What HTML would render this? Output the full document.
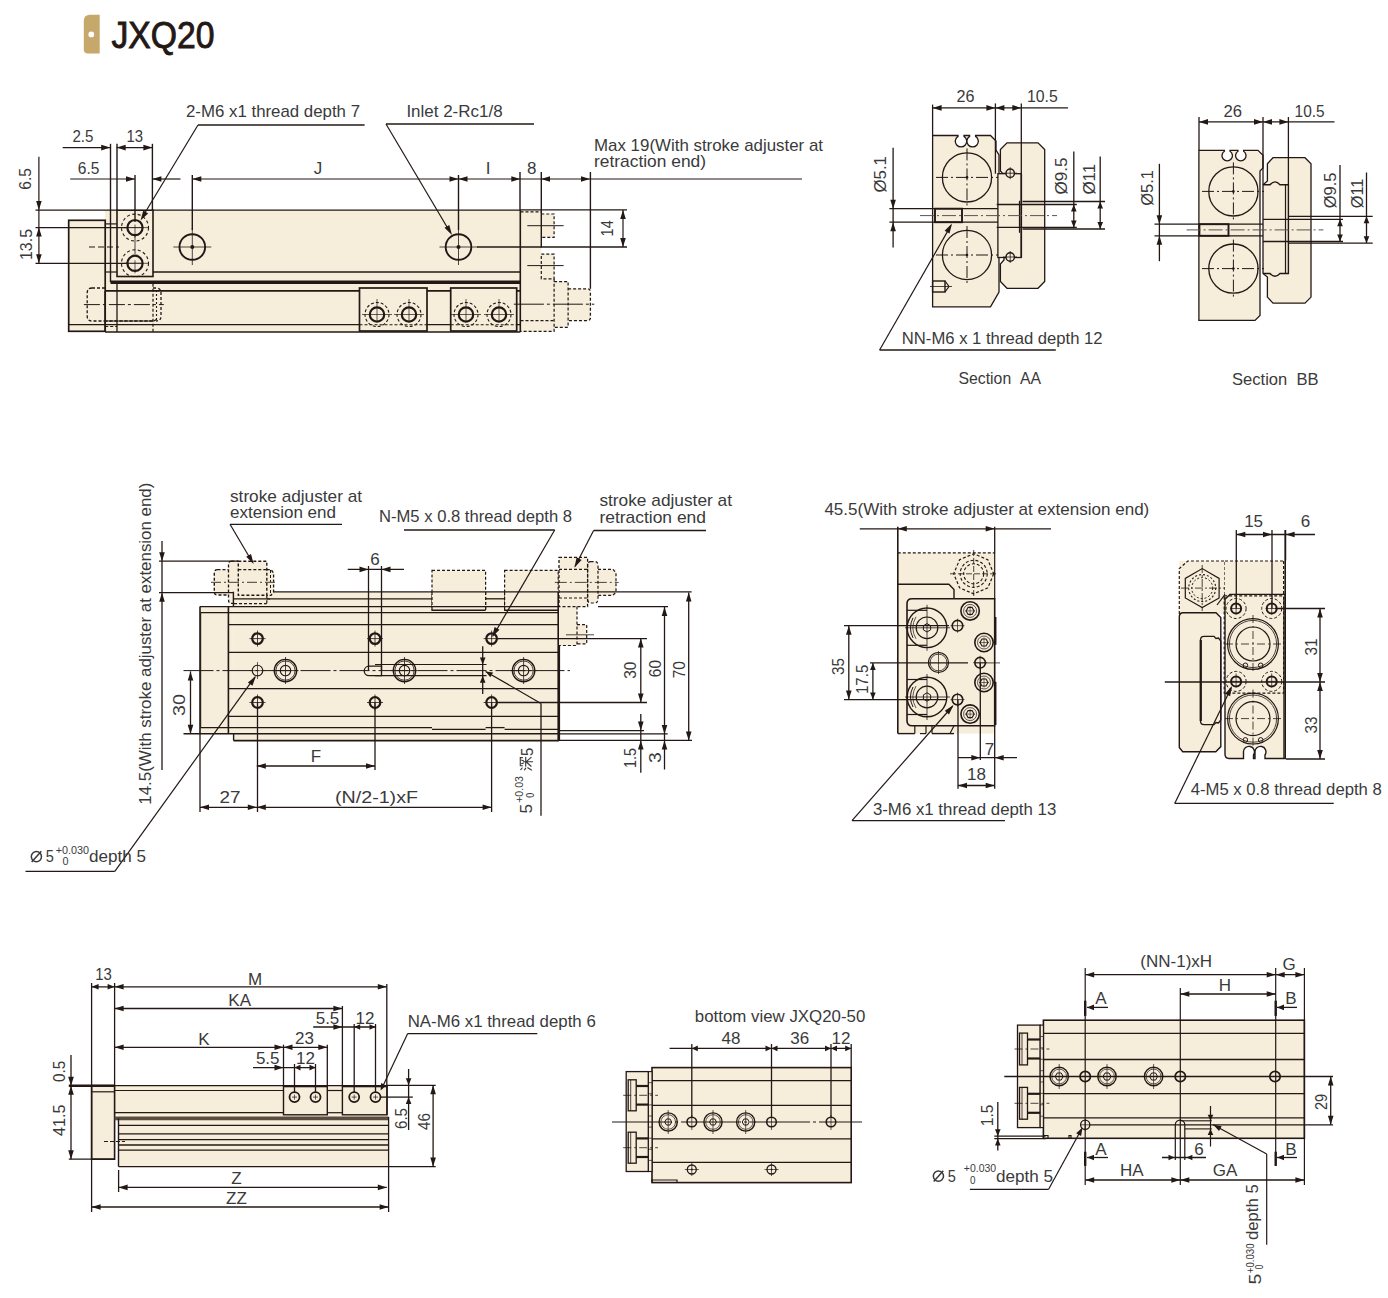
<!DOCTYPE html>
<html><head><meta charset="utf-8"><title>JXQ20</title>
<style>html,body{margin:0;padding:0;background:#fff;}body{width:1388px;height:1298px;overflow:hidden;font-family:"Liberation Sans",sans-serif;}svg{display:block;}</style>
</head><body>
<svg width="1388" height="1298" viewBox="0 0 1388 1298" font-family="Liberation Sans, sans-serif"><path d="M90,14.8 H99.7 V53.4 H88 Q83.8,53.4 83.8,49.4 V21 Q83.8,14.8 90,14.8 Z" fill="#C6A86C" stroke="#231815" stroke-width="0"/>
<circle cx="91.3" cy="34.4" r="2.9" fill="#fff" stroke="#231815" stroke-width="0"/>
<text x="111.5" y="47.8" font-size="36" fill="#231815" stroke="#231815" stroke-width="0.9" textLength="103" lengthAdjust="spacingAndGlyphs">JXQ20</text>
<rect x="105" y="210" width="436.3" height="122" fill="#F6EDDA" stroke="none"/>
<rect x="541" y="214" width="13.1" height="23.4" fill="#F6EDDA" stroke="none"/>
<rect x="541" y="254.2" width="13.1" height="77.1" fill="#F6EDDA" stroke="none"/>
<rect x="554" y="281.6" width="14.1" height="45.7" fill="#F6EDDA" stroke="none"/>
<rect x="568" y="288.8" width="22.4" height="31.8" fill="#F6EDDA" stroke="none"/>
<rect x="68.7" y="220.3" width="36.5" height="111" fill="#F6EDDA" stroke="none"/>
<rect x="117" y="210.2" width="36" height="66.3" fill="#F6EDDA" stroke="#231815" stroke-width="1.6"/>
<line x1="153" y1="210.2" x2="520" y2="210.2" stroke="#231815" stroke-width="1.2"/>
<line x1="520.3" y1="210" x2="520.3" y2="332" stroke="#231815" stroke-width="1.6"/>
<line x1="153" y1="272" x2="520" y2="272" stroke="#231815" stroke-width="1.6"/>
<line x1="110.5" y1="282.2" x2="520.3" y2="282.2" stroke="#231815" stroke-width="3.4"/>
<line x1="105.2" y1="290.9" x2="520.3" y2="290.9" stroke="#231815" stroke-width="1.6"/>
<line x1="68.7" y1="324.7" x2="520.3" y2="324.7" stroke="#231815" stroke-width="1.3"/>
<line x1="105.2" y1="332" x2="520.3" y2="332" stroke="#231815" stroke-width="1.6"/>
<rect x="68.7" y="220.3" width="36.5" height="111" fill="none" stroke="#231815" stroke-width="1.7"/>
<line x1="110.5" y1="143.8" x2="110.5" y2="282.2" stroke="#231815" stroke-width="1.4"/>
<line x1="117" y1="143.8" x2="117" y2="210.2" stroke="#231815" stroke-width="1.4"/>
<line x1="105.2" y1="223.9" x2="117" y2="223.9" stroke="#231815" stroke-width="1.2"/>
<line x1="105.2" y1="272" x2="117" y2="272" stroke="#231815" stroke-width="1.2"/>
<line x1="105.2" y1="290.9" x2="105.2" y2="332" stroke="#231815" stroke-width="1.6"/>
<line x1="117" y1="283.7" x2="117" y2="332" stroke="#231815" stroke-width="1.3"/>
<line x1="153" y1="283.7" x2="153" y2="332" stroke="#231815" stroke-width="1.2" stroke-dasharray="3,2"/>
<line x1="105.2" y1="326.5" x2="117" y2="326.5" stroke="#231815" stroke-width="1.1" stroke-dasharray="3,2"/>
<path d="M92,288 H105.2 M92,288 Q87.2,288 87.2,293 V316 Q87.2,321 92,321 H153 Q156,321 156,318 M153,288 H156 Q161,288 161,293 V316 Q161,321 156,321" fill="none" stroke="#231815" stroke-width="1.3" stroke-dasharray="3,2"/>
<line x1="105.2" y1="321" x2="153" y2="321" stroke="#231815" stroke-width="1.3" stroke-dasharray="3,2"/>
<line x1="156.5" y1="290" x2="156.5" y2="320" stroke="#231815" stroke-width="1.1" stroke-dasharray="2,2"/>
<line x1="83.9" y1="304.6" x2="163.8" y2="304.6" stroke="#231815" stroke-width="1" stroke-dasharray="16,3,3,3"/>
<line x1="89" y1="247" x2="119" y2="247" stroke="#231815" stroke-width="1" stroke-dasharray="6,3"/>
<circle cx="135" cy="227.6" r="13.5" fill="none" stroke="#231815" stroke-width="1.1" stroke-dasharray="3,2.5"/>
<circle cx="135" cy="227.6" r="7.6" fill="none" stroke="#231815" stroke-width="2.2"/>
<line x1="124" y1="227.6" x2="148" y2="227.6" stroke="#231815" stroke-width="0.7"/>
<line x1="135" y1="224.6" x2="135" y2="237.6" stroke="#231815" stroke-width="0.7"/>
<line x1="128" y1="227.6" x2="142" y2="227.6" stroke="#231815" stroke-width="0.7"/>
<circle cx="135" cy="263.3" r="13.5" fill="none" stroke="#231815" stroke-width="1.1" stroke-dasharray="3,2.5"/>
<circle cx="135" cy="263.3" r="7.6" fill="none" stroke="#231815" stroke-width="2.2"/>
<line x1="124" y1="263.3" x2="148" y2="263.3" stroke="#231815" stroke-width="0.7"/>
<line x1="135" y1="260.3" x2="135" y2="273.3" stroke="#231815" stroke-width="0.7"/>
<line x1="128" y1="263.3" x2="142" y2="263.3" stroke="#231815" stroke-width="0.7"/>
<line x1="135" y1="236" x2="135" y2="254" stroke="#231815" stroke-width="0.8"/>
<circle cx="192.3" cy="247" r="12.8" fill="none" stroke="#231815" stroke-width="1.9"/>
<line x1="173.3" y1="247" x2="211.3" y2="247" stroke="#231815" stroke-width="0.8"/>
<line x1="192.3" y1="228" x2="192.3" y2="265" stroke="#231815" stroke-width="0.8"/>
<circle cx="192.3" cy="247" r="2" fill="#231815" stroke="#231815" stroke-width="0"/>
<circle cx="458.5" cy="247" r="12.8" fill="none" stroke="#231815" stroke-width="1.9"/>
<line x1="439.5" y1="247" x2="477.5" y2="247" stroke="#231815" stroke-width="0.8"/>
<line x1="458.5" y1="228" x2="458.5" y2="265" stroke="#231815" stroke-width="0.8"/>
<circle cx="458.5" cy="247" r="2" fill="#231815" stroke="#231815" stroke-width="0"/>
<line x1="477" y1="247" x2="627" y2="247" stroke="#231815" stroke-width="1.3"/>
<line x1="35.5" y1="210.2" x2="117" y2="210.2" stroke="#231815" stroke-width="1.3"/>
<line x1="35.5" y1="227.6" x2="128" y2="227.6" stroke="#231815" stroke-width="1.3"/>
<line x1="35.5" y1="263.3" x2="128" y2="263.3" stroke="#231815" stroke-width="1.3"/>
<rect x="359.5" y="288" width="67.5" height="43" fill="#F6EDDA" stroke="#231815" stroke-width="1.7"/>
<line x1="359.5" y1="324.7" x2="427" y2="324.7" stroke="#231815" stroke-width="1.1" stroke-dasharray="3,2"/>
<circle cx="377" cy="314.5" r="12" fill="none" stroke="#231815" stroke-width="1.1" stroke-dasharray="3,2"/>
<circle cx="377" cy="314.5" r="7.2" fill="none" stroke="#231815" stroke-width="2.2"/>
<line x1="362" y1="314.5" x2="392" y2="314.5" stroke="#231815" stroke-width="0.7"/>
<line x1="377" y1="299" x2="377" y2="322" stroke="#231815" stroke-width="0.7"/>
<circle cx="409" cy="314.5" r="12" fill="none" stroke="#231815" stroke-width="1.1" stroke-dasharray="3,2"/>
<circle cx="409" cy="314.5" r="7.2" fill="none" stroke="#231815" stroke-width="2.2"/>
<line x1="394" y1="314.5" x2="424" y2="314.5" stroke="#231815" stroke-width="0.7"/>
<line x1="409" y1="299" x2="409" y2="322" stroke="#231815" stroke-width="0.7"/>
<rect x="450.7" y="288" width="66" height="43" fill="#F6EDDA" stroke="#231815" stroke-width="1.7"/>
<line x1="450.7" y1="324.7" x2="516.7" y2="324.7" stroke="#231815" stroke-width="1.1" stroke-dasharray="3,2"/>
<circle cx="466" cy="314.5" r="12" fill="none" stroke="#231815" stroke-width="1.1" stroke-dasharray="3,2"/>
<circle cx="466" cy="314.5" r="7.2" fill="none" stroke="#231815" stroke-width="2.2"/>
<line x1="451" y1="314.5" x2="481" y2="314.5" stroke="#231815" stroke-width="0.7"/>
<line x1="466" y1="299" x2="466" y2="322" stroke="#231815" stroke-width="0.7"/>
<circle cx="499" cy="314.5" r="12" fill="none" stroke="#231815" stroke-width="1.1" stroke-dasharray="3,2"/>
<circle cx="499" cy="314.5" r="7.2" fill="none" stroke="#231815" stroke-width="2.2"/>
<line x1="484" y1="314.5" x2="514" y2="314.5" stroke="#231815" stroke-width="0.7"/>
<line x1="499" y1="299" x2="499" y2="322" stroke="#231815" stroke-width="0.7"/>
<path d="M520.5,211.8 H541.3 M541.3,214 H554.1 V237.4 H541.3" fill="none" stroke="#231815" stroke-width="1.2" stroke-dasharray="3,2"/>
<path d="M541.3,254.2 H554.1 V278.8 H541.3 V254.2" fill="none" stroke="#231815" stroke-width="1.2" stroke-dasharray="3,2"/>
<path d="M554.1,278.8 V331.3 H520.5" fill="none" stroke="#231815" stroke-width="1.2" stroke-dasharray="3,2"/>
<path d="M554.1,281.6 H568.1 V327.3 H554.1" fill="none" stroke="#231815" stroke-width="1.2" stroke-dasharray="3,2"/>
<path d="M568.1,288.8 H587.5 Q590.4,288.8 590.4,292 V317.5 Q590.4,320.6 587.5,320.6 H568.1" fill="none" stroke="#231815" stroke-width="1.3" stroke-dasharray="3,2"/>
<line x1="520.5" y1="320.6" x2="554.1" y2="320.6" stroke="#231815" stroke-width="1.2" stroke-dasharray="3,2"/>
<line x1="527.3" y1="225.7" x2="563.6" y2="225.7" stroke="#231815" stroke-width="1"/>
<line x1="527.3" y1="265.6" x2="563.6" y2="265.6" stroke="#231815" stroke-width="1"/>
<line x1="513.9" y1="304.2" x2="594.3" y2="304.2" stroke="#231815" stroke-width="1" stroke-dasharray="30,3,3,3"/>
<line x1="520" y1="209.8" x2="627" y2="209.8" stroke="#231815" stroke-width="1.3"/>
<line x1="541.3" y1="172" x2="541.3" y2="247.5" stroke="#231815" stroke-width="1.4"/>
<line x1="590.4" y1="172" x2="590.4" y2="288.8" stroke="#231815" stroke-width="1.4"/>
<line x1="520" y1="172" x2="520" y2="210" stroke="#231815" stroke-width="1.4"/>
<line x1="192.3" y1="175" x2="192.3" y2="230" stroke="#231815" stroke-width="1.4"/>
<line x1="458.5" y1="175" x2="458.5" y2="230" stroke="#231815" stroke-width="1.4"/>
<line x1="135" y1="175" x2="135" y2="222" stroke="#231815" stroke-width="1.4"/>
<line x1="152.4" y1="143.8" x2="152.4" y2="210" stroke="#231815" stroke-width="1.4"/>
<line x1="62.7" y1="147.6" x2="110.2" y2="147.6" stroke="#231815" stroke-width="1.2"/>
<polygon points="110.2,147.6 101.2,144.8 101.2,150.4" fill="#231815"/>
<line x1="116.7" y1="147.6" x2="152.4" y2="147.6" stroke="#231815" stroke-width="1.2"/>
<polygon points="116.7,147.6 125.7,144.8 125.7,150.4" fill="#231815"/>
<polygon points="152.4,147.6 143.4,144.8 143.4,150.4" fill="#231815"/>
<line x1="70.2" y1="179" x2="135" y2="179" stroke="#231815" stroke-width="1.2"/>
<polygon points="135,179 126,176.2 126,181.8" fill="#231815"/>
<line x1="152.4" y1="179" x2="180.5" y2="179" stroke="#231815" stroke-width="1.2"/>
<polygon points="152.4,179 161.4,176.2 161.4,181.8" fill="#231815"/>
<line x1="192.3" y1="179" x2="802" y2="179" stroke="#231815" stroke-width="1.2"/>
<polygon points="192.3,179 201.3,176.2 201.3,181.8" fill="#231815"/>
<polygon points="458.5,179 449.5,176.2 449.5,181.8" fill="#231815"/>
<polygon points="458.5,179 467.5,176.2 467.5,181.8" fill="#231815"/>
<polygon points="520.3,179 511.3,176.2 511.3,181.8" fill="#231815"/>
<polygon points="541,179 550,176.2 550,181.8" fill="#231815"/>
<polygon points="590,179 581,176.2 581,181.8" fill="#231815"/>
<line x1="38.9" y1="156.7" x2="38.9" y2="263.3" stroke="#231815" stroke-width="1.2"/>
<polygon points="38.9,210 36.1,201 41.7,201" fill="#231815"/>
<polygon points="38.9,227.6 36.1,236.6 41.7,236.6" fill="#231815"/>
<polygon points="38.9,263.3 36.1,254.3 41.7,254.3" fill="#231815"/>
<line x1="623" y1="210" x2="623" y2="247" stroke="#231815" stroke-width="1.2"/>
<polygon points="623,210 620.2,219 625.8,219" fill="#231815"/>
<polygon points="623,247 620.2,238 625.8,238" fill="#231815"/>
<line x1="198" y1="125" x2="364.6" y2="125" stroke="#231815" stroke-width="1.6"/>
<line x1="198" y1="125" x2="143" y2="216" stroke="#231815" stroke-width="1.2"/>
<polygon points="140.5,220.5 143.3,210.5 148.1,213.4" fill="#231815"/>
<line x1="386" y1="124" x2="534" y2="124" stroke="#231815" stroke-width="1.6"/>
<line x1="386" y1="124" x2="450" y2="232" stroke="#231815" stroke-width="1.2"/>
<polygon points="452,235 444.5,227.8 449.3,225" fill="#231815"/>
<text x="186" y="116.5" font-size="17" fill="#3a3a3a" textLength="174" lengthAdjust="spacingAndGlyphs">2-M6 x1 thread depth 7</text>
<text x="406.4" y="116.7" font-size="17" fill="#3a3a3a" textLength="96.2" lengthAdjust="spacingAndGlyphs">Inlet 2-Rc1/8</text>
<text x="72.4" y="141.6" font-size="17" fill="#3a3a3a" textLength="21" lengthAdjust="spacingAndGlyphs">2.5</text>
<text x="126.4" y="141.6" font-size="17" fill="#3a3a3a" textLength="16.6" lengthAdjust="spacingAndGlyphs">13</text>
<text x="77.8" y="174" font-size="17" fill="#3a3a3a" textLength="21.6" lengthAdjust="spacingAndGlyphs">6.5</text>
<text x="318" y="174" font-size="17" fill="#3a3a3a" text-anchor="middle">J</text>
<text x="488" y="174" font-size="17" fill="#3a3a3a" text-anchor="middle">I</text>
<text x="531.8" y="174" font-size="17" fill="#3a3a3a" text-anchor="middle">8</text>
<text x="594" y="151" font-size="17" fill="#3a3a3a" textLength="229" lengthAdjust="spacingAndGlyphs">Max 19(With stroke adjuster at</text>
<text x="594" y="167" font-size="17" fill="#3a3a3a" textLength="112" lengthAdjust="spacingAndGlyphs">retraction end)</text>
<text x="31.5" y="189.7" font-size="17" fill="#3a3a3a" textLength="21.7" lengthAdjust="spacingAndGlyphs" transform="rotate(-90 31.5 189.7)">6.5</text>
<text x="31.5" y="260" font-size="17" fill="#3a3a3a" textLength="31" lengthAdjust="spacingAndGlyphs" transform="rotate(-90 31.5 260)">13.5</text>
<text x="613" y="236.4" font-size="17" fill="#3a3a3a" textLength="16.1" lengthAdjust="spacingAndGlyphs" transform="rotate(-90 613 236.4)">14</text>
<path d="M932.6,135.5 H958 V136.4 A5.7,5.7 0 1 0 964,136.4 V135.5 H969.6 V136.4 A5.7,5.7 0 1 0 975.6,136.4 V135.5 H990.5 L996,141 V150 L999,155 V292 L990.5,306.8 H932.6 Z" fill="#F6EDDA" stroke="#231815" stroke-width="1.3"/>
<path d="M1007,142.8 H1038 L1044.7,149.5 V281.5 L1038,288.3 H1007 L1000.4,281.5 V264 L1004,260 V175 L1000.4,171 V149.5 Z" fill="#F6EDDA" stroke="#231815" stroke-width="1.3"/>
<rect x="997.9" y="173.7" width="23.4" height="83.8" fill="#F6EDDA" stroke="#231815" stroke-width="1.3"/>
<line x1="1021.3" y1="173.7" x2="1021.3" y2="257.5" stroke="#231815" stroke-width="1.6"/>
<line x1="1019.5" y1="200.8" x2="1019.5" y2="232.8" stroke="#231815" stroke-width="1.2"/>
<circle cx="1010.2" cy="173.2" r="4.2" fill="#F6EDDA" stroke="#231815" stroke-width="1.4"/>
<line x1="1003" y1="173.2" x2="1017" y2="173.2" stroke="#231815" stroke-width="0.8"/>
<line x1="1010.2" y1="167.2" x2="1010.2" y2="179.2" stroke="#231815" stroke-width="0.8"/>
<circle cx="1010.2" cy="257" r="4.2" fill="#F6EDDA" stroke="#231815" stroke-width="1.4"/>
<line x1="1003" y1="257" x2="1017" y2="257" stroke="#231815" stroke-width="0.8"/>
<line x1="1010.2" y1="251" x2="1010.2" y2="263" stroke="#231815" stroke-width="0.8"/>
<circle cx="967" cy="177.4" r="24.6" fill="none" stroke="#231815" stroke-width="1.3"/>
<line x1="936" y1="177.4" x2="998" y2="177.4" stroke="#231815" stroke-width="1" stroke-dasharray="12,3,2,3"/>
<line x1="967" y1="148.4" x2="967" y2="206.4" stroke="#231815" stroke-width="1" stroke-dasharray="12,3,2,3"/>
<circle cx="967" cy="177.4" r="1.3" fill="#231815" stroke="#231815" stroke-width="0"/>
<circle cx="967" cy="255" r="24.6" fill="none" stroke="#231815" stroke-width="1.3"/>
<line x1="936" y1="255" x2="998" y2="255" stroke="#231815" stroke-width="1" stroke-dasharray="12,3,2,3"/>
<line x1="967" y1="226" x2="967" y2="284" stroke="#231815" stroke-width="1" stroke-dasharray="12,3,2,3"/>
<circle cx="967" cy="255" r="1.3" fill="#231815" stroke="#231815" stroke-width="0"/>
<line x1="889.4" y1="208.7" x2="997.9" y2="208.7" stroke="#231815" stroke-width="1.3"/>
<line x1="889.4" y1="222.2" x2="997.9" y2="222.2" stroke="#231815" stroke-width="1.3"/>
<rect x="935" y="208.7" width="27" height="13.5" fill="none" stroke="#231815" stroke-width="1.9"/>
<line x1="920" y1="215.6" x2="1057" y2="215.6" stroke="#555" stroke-width="1" stroke-dasharray="14,3,2,3"/>
<line x1="996.7" y1="204.5" x2="1076.8" y2="204.5" stroke="#231815" stroke-width="1.3"/>
<line x1="996.7" y1="227.4" x2="1076.8" y2="227.4" stroke="#231815" stroke-width="1.3"/>
<line x1="1022.5" y1="201.5" x2="1105" y2="201.5" stroke="#231815" stroke-width="1.3"/>
<line x1="1022.5" y1="229" x2="1105" y2="229" stroke="#231815" stroke-width="1.3"/>
<rect x="932.6" y="281" width="12.4" height="11" fill="none" stroke="#231815" stroke-width="1.4"/>
<path d="M945,281 L949,286.5 L945,292" fill="none" stroke="#231815" stroke-width="1.2"/>
<line x1="930" y1="286.5" x2="952" y2="286.5" stroke="#231815" stroke-width="0.8"/>
<line x1="893.1" y1="147.8" x2="893.1" y2="247.6" stroke="#231815" stroke-width="1.3"/>
<polygon points="893.1,208.7 890.3,199.7 895.9,199.7" fill="#231815"/>
<polygon points="893.1,222.2 890.3,231.2 895.9,231.2" fill="#231815"/>
<line x1="1073.8" y1="151.5" x2="1073.8" y2="227.4" stroke="#231815" stroke-width="1.3"/>
<polygon points="1073.8,204.5 1071,211.5 1076.6,211.5" fill="#231815"/>
<polygon points="1073.8,227.4 1071,220.4 1076.6,220.4" fill="#231815"/>
<line x1="1100.2" y1="156.4" x2="1100.2" y2="229" stroke="#231815" stroke-width="1.3"/>
<polygon points="1100.2,201.5 1097.4,208.5 1103,208.5" fill="#231815"/>
<polygon points="1100.2,229 1097.4,222 1103,222" fill="#231815"/>
<line x1="932.6" y1="104.6" x2="932.6" y2="135.5" stroke="#231815" stroke-width="1.3"/>
<line x1="995.4" y1="103.4" x2="995.4" y2="173.7" stroke="#231815" stroke-width="1.3"/>
<line x1="1021.3" y1="103.4" x2="1021.3" y2="173.7" stroke="#231815" stroke-width="1.3"/>
<line x1="932.6" y1="107.9" x2="1068" y2="107.9" stroke="#231815" stroke-width="1.3"/>
<polygon points="932.6,107.9 941.6,105.1 941.6,110.7" fill="#231815"/>
<polygon points="995.4,107.9 986.4,105.1 986.4,110.7" fill="#231815"/>
<polygon points="995.4,107.9 1004.4,105.1 1004.4,110.7" fill="#231815"/>
<polygon points="1021.3,107.9 1012.3,105.1 1012.3,110.7" fill="#231815"/>
<line x1="951" y1="225.4" x2="879.6" y2="350" stroke="#231815" stroke-width="1.2"/>
<polygon points="952,223.5 949.5,233.6 944.6,230.8" fill="#231815"/>
<line x1="879.6" y1="350" x2="1055.8" y2="350" stroke="#231815" stroke-width="1.3"/>
<text x="956.5" y="102" font-size="17" fill="#3a3a3a" textLength="18" lengthAdjust="spacingAndGlyphs">26</text>
<text x="1027" y="102" font-size="17" fill="#3a3a3a" textLength="30.8" lengthAdjust="spacingAndGlyphs">10.5</text>
<text x="886.4" y="192.5" font-size="17" fill="#3a3a3a" textLength="36.5" lengthAdjust="spacingAndGlyphs" transform="rotate(-90 886.4 192.5)">Ø5.1</text>
<text x="1066.8" y="194.6" font-size="17" fill="#3a3a3a" textLength="37" lengthAdjust="spacingAndGlyphs" transform="rotate(-90 1066.8 194.6)">Ø9.5</text>
<text x="1095.2" y="194.6" font-size="17" fill="#3a3a3a" textLength="30.8" lengthAdjust="spacingAndGlyphs" transform="rotate(-90 1095.2 194.6)">Ø11</text>
<text x="901.8" y="343.7" font-size="17" fill="#3a3a3a" textLength="200.8" lengthAdjust="spacingAndGlyphs">NN-M6 x 1 thread depth 12</text>
<text x="958.5" y="384.4" font-size="17" fill="#3a3a3a" textLength="82.5" lengthAdjust="spacingAndGlyphs">Section  AA</text>
<path d="M1198.9,150.3 H1224.4 V151.2 A5.2,5.2 0 1 0 1230,151.2 V150.3 H1238 V151.2 A5.2,5.2 0 1 0 1243.6,151.2 V150.3 H1258 L1263,155.3 V168 L1260,171 V315.4 L1255,320.4 H1198.9 Z" fill="#F6EDDA" stroke="#231815" stroke-width="1.3"/>
<path d="M1273,157.7 H1305 L1311,163.7 V297.1 L1305,303.1 H1273 L1267.4,297.1 V277 L1263,273.5 V184.8 L1267.4,181 V163.7 Z" fill="#F6EDDA" stroke="#231815" stroke-width="1.3"/>
<path d="M1263,184.8 H1270 Q1275,179 1280,184.8 H1288.4 V273.5 H1280 Q1275,279 1270,273.5 H1263" fill="none" stroke="#231815" stroke-width="1.4"/>
<line x1="1285.5" y1="184.8" x2="1285.5" y2="273.5" stroke="#231815" stroke-width="1.2"/>
<circle cx="1233.4" cy="191.4" r="24.6" fill="none" stroke="#231815" stroke-width="1.3"/>
<line x1="1202" y1="191.4" x2="1264" y2="191.4" stroke="#231815" stroke-width="1" stroke-dasharray="12,3,2,3"/>
<line x1="1233.4" y1="162.4" x2="1233.4" y2="220.4" stroke="#231815" stroke-width="1" stroke-dasharray="12,3,2,3"/>
<circle cx="1233.4" cy="191.4" r="1.3" fill="#231815" stroke="#231815" stroke-width="0"/>
<circle cx="1233.4" cy="268.6" r="24.6" fill="none" stroke="#231815" stroke-width="1.3"/>
<line x1="1202" y1="268.6" x2="1264" y2="268.6" stroke="#231815" stroke-width="1" stroke-dasharray="12,3,2,3"/>
<line x1="1233.4" y1="239.6" x2="1233.4" y2="297.6" stroke="#231815" stroke-width="1" stroke-dasharray="12,3,2,3"/>
<circle cx="1233.4" cy="268.6" r="1.3" fill="#231815" stroke="#231815" stroke-width="0"/>
<line x1="1154.5" y1="224.2" x2="1263" y2="224.2" stroke="#231815" stroke-width="1.3"/>
<line x1="1154.5" y1="235.8" x2="1263" y2="235.8" stroke="#231815" stroke-width="1.3"/>
<rect x="1199.4" y="224.2" width="29.1" height="11.6" fill="none" stroke="#231815" stroke-width="1.9"/>
<line x1="1186.6" y1="229.9" x2="1323.4" y2="229.9" stroke="#555" stroke-width="1" stroke-dasharray="14,3,2,3"/>
<line x1="1263" y1="219.3" x2="1343" y2="219.3" stroke="#231815" stroke-width="1.3"/>
<line x1="1263" y1="241.5" x2="1343" y2="241.5" stroke="#231815" stroke-width="1.3"/>
<line x1="1288.4" y1="216.3" x2="1372.7" y2="216.3" stroke="#231815" stroke-width="1.3"/>
<line x1="1288.4" y1="243.2" x2="1372.7" y2="243.2" stroke="#231815" stroke-width="1.3"/>
<line x1="1159.4" y1="163.8" x2="1159.4" y2="261.2" stroke="#231815" stroke-width="1.3"/>
<polygon points="1159.4,224.2 1156.6,215.2 1162.2,215.2" fill="#231815"/>
<polygon points="1159.4,235.8 1156.6,244.8 1162.2,244.8" fill="#231815"/>
<line x1="1340" y1="165" x2="1340" y2="241.5" stroke="#231815" stroke-width="1.3"/>
<polygon points="1340,219.3 1337.2,226.3 1342.8,226.3" fill="#231815"/>
<polygon points="1340,241.5 1337.2,234.5 1342.8,234.5" fill="#231815"/>
<line x1="1366.5" y1="172.5" x2="1366.5" y2="243.2" stroke="#231815" stroke-width="1.3"/>
<polygon points="1366.5,216.3 1363.7,223.3 1369.3,223.3" fill="#231815"/>
<polygon points="1366.5,243.2 1363.7,236.2 1369.3,236.2" fill="#231815"/>
<line x1="1199" y1="117" x2="1199" y2="150.3" stroke="#231815" stroke-width="1.3"/>
<line x1="1263" y1="117" x2="1263" y2="184.8" stroke="#231815" stroke-width="1.3"/>
<line x1="1288.4" y1="117" x2="1288.4" y2="184.8" stroke="#231815" stroke-width="1.3"/>
<line x1="1199" y1="121.9" x2="1334.5" y2="121.9" stroke="#231815" stroke-width="1.3"/>
<polygon points="1199,121.9 1208,119.1 1208,124.7" fill="#231815"/>
<polygon points="1263,121.9 1254,119.1 1254,124.7" fill="#231815"/>
<polygon points="1263,121.9 1272,119.1 1272,124.7" fill="#231815"/>
<polygon points="1288.4,121.9 1279.4,119.1 1279.4,124.7" fill="#231815"/>
<text x="1223.5" y="117" font-size="17" fill="#3a3a3a" textLength="18.5" lengthAdjust="spacingAndGlyphs">26</text>
<text x="1294.6" y="117" font-size="17" fill="#3a3a3a" textLength="30" lengthAdjust="spacingAndGlyphs">10.5</text>
<text x="1153.2" y="205.7" font-size="17" fill="#3a3a3a" textLength="35.7" lengthAdjust="spacingAndGlyphs" transform="rotate(-90 1153.2 205.7)">Ø5.1</text>
<text x="1335.7" y="208.2" font-size="17" fill="#3a3a3a" textLength="35.7" lengthAdjust="spacingAndGlyphs" transform="rotate(-90 1335.7 208.2)">Ø9.5</text>
<text x="1362.7" y="208.2" font-size="17" fill="#3a3a3a" textLength="29.6" lengthAdjust="spacingAndGlyphs" transform="rotate(-90 1362.7 208.2)">Ø11</text>
<text x="1232" y="384.5" font-size="17" fill="#3a3a3a" textLength="86.5" lengthAdjust="spacingAndGlyphs">Section  BB</text>
<rect x="233.6" y="591.9" width="324.6" height="148.7" fill="#F6EDDA" stroke="none"/>
<rect x="200" y="606.6" width="33.6" height="127.1" fill="#F6EDDA" stroke="none"/>
<rect x="432" y="570.3" width="53.6" height="40" fill="#F6EDDA" stroke="#231815" stroke-width="1.2" stroke-dasharray="3,2"/>
<rect x="504.6" y="570.3" width="53.6" height="40" fill="#F6EDDA" stroke="#231815" stroke-width="1.2" stroke-dasharray="3,2"/>
<rect x="432" y="591.9" width="53.6" height="18.4" fill="#F6EDDA" stroke="none"/>
<rect x="504.6" y="591.9" width="53.6" height="18.4" fill="#F6EDDA" stroke="none"/>
<line x1="432" y1="591.9" x2="432" y2="610" stroke="#231815" stroke-width="1.2" stroke-dasharray="3,2"/>
<line x1="485.6" y1="591.9" x2="485.6" y2="610" stroke="#231815" stroke-width="1.2" stroke-dasharray="3,2"/>
<line x1="504.6" y1="591.9" x2="504.6" y2="610" stroke="#231815" stroke-width="1.2" stroke-dasharray="3,2"/>
<line x1="270" y1="591.9" x2="558.2" y2="591.9" stroke="#231815" stroke-width="1.3"/>
<line x1="233.6" y1="598.8" x2="432" y2="598.8" stroke="#231815" stroke-width="1.3"/>
<line x1="485.6" y1="598.8" x2="504.6" y2="598.8" stroke="#231815" stroke-width="1.3"/>
<line x1="200" y1="606.6" x2="558.2" y2="606.6" stroke="#231815" stroke-width="1.4"/>
<line x1="432" y1="610.3" x2="485.6" y2="610.3" stroke="#231815" stroke-width="1.4"/>
<line x1="504.6" y1="610.3" x2="558.2" y2="610.3" stroke="#231815" stroke-width="1.4"/>
<line x1="200.7" y1="612.6" x2="558.2" y2="612.6" stroke="#231815" stroke-width="1.3"/>
<line x1="228.4" y1="624.7" x2="558.2" y2="624.7" stroke="#231815" stroke-width="1.3"/>
<line x1="228.4" y1="652.4" x2="558.2" y2="652.4" stroke="#231815" stroke-width="1.3"/>
<line x1="228.4" y1="688.7" x2="558.2" y2="688.7" stroke="#231815" stroke-width="1.3"/>
<line x1="228.4" y1="716.4" x2="558.2" y2="716.4" stroke="#231815" stroke-width="1.3"/>
<line x1="200.7" y1="727.6" x2="432" y2="727.6" stroke="#231815" stroke-width="1.3"/>
<line x1="432" y1="729.3" x2="485.6" y2="729.3" stroke="#231815" stroke-width="1.3"/>
<line x1="485.6" y1="727.6" x2="504.6" y2="727.6" stroke="#231815" stroke-width="1.3"/>
<line x1="504.6" y1="729.3" x2="558.2" y2="729.3" stroke="#231815" stroke-width="1.3"/>
<line x1="183.5" y1="733.7" x2="558.2" y2="733.7" stroke="#231815" stroke-width="1.4"/>
<line x1="233.6" y1="740.6" x2="559" y2="740.6" stroke="#231815" stroke-width="1.6"/>
<line x1="233.6" y1="733.7" x2="233.6" y2="740.6" stroke="#231815" stroke-width="1.4"/>
<line x1="200" y1="606.6" x2="200" y2="733.7" stroke="#231815" stroke-width="1.6"/>
<line x1="200.7" y1="612.6" x2="200.7" y2="727.6" stroke="#231815" stroke-width="1"/>
<line x1="228.4" y1="606.6" x2="228.4" y2="733.7" stroke="#231815" stroke-width="1.6"/>
<line x1="558.2" y1="591.9" x2="558.2" y2="740.6" stroke="#231815" stroke-width="1.6"/>
<line x1="559.5" y1="591.9" x2="559.5" y2="740.6" stroke="#231815" stroke-width="1.2"/>
<line x1="375" y1="664.5" x2="486.5" y2="664.5" stroke="#231815" stroke-width="1.2"/>
<line x1="375" y1="675.7" x2="486.5" y2="675.7" stroke="#231815" stroke-width="1.2"/>
<line x1="183.5" y1="670.6" x2="570" y2="670.6" stroke="#231815" stroke-width="1" stroke-dasharray="30,3,3,3"/>
<circle cx="257.5" cy="638.6" r="5.3" fill="none" stroke="#231815" stroke-width="2.2"/>
<line x1="249.5" y1="638.6" x2="265.5" y2="638.6" stroke="#231815" stroke-width="0.8"/>
<line x1="257.5" y1="630.6" x2="257.5" y2="646.6" stroke="#231815" stroke-width="0.8"/>
<circle cx="257.5" cy="702.5" r="5.3" fill="none" stroke="#231815" stroke-width="2.2"/>
<line x1="249.5" y1="702.5" x2="265.5" y2="702.5" stroke="#231815" stroke-width="0.8"/>
<line x1="257.5" y1="694.5" x2="257.5" y2="710.5" stroke="#231815" stroke-width="0.8"/>
<circle cx="375" cy="638.6" r="5.3" fill="none" stroke="#231815" stroke-width="2.2"/>
<line x1="367" y1="638.6" x2="383" y2="638.6" stroke="#231815" stroke-width="0.8"/>
<line x1="375" y1="630.6" x2="375" y2="646.6" stroke="#231815" stroke-width="0.8"/>
<circle cx="375" cy="702.5" r="5.3" fill="none" stroke="#231815" stroke-width="2.2"/>
<line x1="367" y1="702.5" x2="383" y2="702.5" stroke="#231815" stroke-width="0.8"/>
<line x1="375" y1="694.5" x2="375" y2="710.5" stroke="#231815" stroke-width="0.8"/>
<circle cx="491.6" cy="638.6" r="5.3" fill="none" stroke="#231815" stroke-width="2.2"/>
<line x1="483.6" y1="638.6" x2="499.6" y2="638.6" stroke="#231815" stroke-width="0.8"/>
<line x1="491.6" y1="630.6" x2="491.6" y2="646.6" stroke="#231815" stroke-width="0.8"/>
<circle cx="491.6" cy="702.5" r="5.3" fill="none" stroke="#231815" stroke-width="2.2"/>
<line x1="483.6" y1="702.5" x2="499.6" y2="702.5" stroke="#231815" stroke-width="0.8"/>
<line x1="491.6" y1="694.5" x2="491.6" y2="710.5" stroke="#231815" stroke-width="0.8"/>
<circle cx="257.5" cy="670.6" r="5.3" fill="none" stroke="#231815" stroke-width="1.1"/>
<line x1="257.5" y1="662" x2="257.5" y2="679" stroke="#231815" stroke-width="0.7"/>
<line x1="250" y1="670.6" x2="265" y2="670.6" stroke="#231815" stroke-width="0.7"/>
<path d="M369,666.2 H381.5 V675.7 H369 A4.75,4.75 0 0 1 369,666.2 Z" fill="none" stroke="#231815" stroke-width="1.3"/>
<circle cx="285.5" cy="670.6" r="11.2" fill="none" stroke="#231815" stroke-width="1.4"/>
<circle cx="285.5" cy="670.6" r="9.6" fill="none" stroke="#231815" stroke-width="0.8"/>
<circle cx="285.5" cy="670.6" r="5.2" fill="none" stroke="#231815" stroke-width="1.1"/>
<line x1="285.5" y1="657" x2="285.5" y2="684" stroke="#231815" stroke-width="0.8"/>
<line x1="272.5" y1="670.6" x2="298.5" y2="670.6" stroke="#231815" stroke-width="0.8"/>
<circle cx="404.5" cy="670.6" r="11.2" fill="none" stroke="#231815" stroke-width="1.4"/>
<circle cx="404.5" cy="670.6" r="9.6" fill="none" stroke="#231815" stroke-width="0.8"/>
<circle cx="404.5" cy="670.6" r="5.2" fill="none" stroke="#231815" stroke-width="1.1"/>
<line x1="404.5" y1="657" x2="404.5" y2="684" stroke="#231815" stroke-width="0.8"/>
<line x1="391.5" y1="670.6" x2="417.5" y2="670.6" stroke="#231815" stroke-width="0.8"/>
<circle cx="523.6" cy="670.6" r="11.2" fill="none" stroke="#231815" stroke-width="1.4"/>
<circle cx="523.6" cy="670.6" r="9.6" fill="none" stroke="#231815" stroke-width="0.8"/>
<circle cx="523.6" cy="670.6" r="5.2" fill="none" stroke="#231815" stroke-width="1.1"/>
<line x1="523.6" y1="657" x2="523.6" y2="684" stroke="#231815" stroke-width="0.8"/>
<line x1="510.6" y1="670.6" x2="536.6" y2="670.6" stroke="#231815" stroke-width="0.8"/>
<rect x="214.3" y="569.6" width="59.3" height="25.7" fill="#F6EDDA" stroke="none"/>
<rect x="228.5" y="561.2" width="38.3" height="42.5" fill="#F6EDDA" stroke="none"/>
<path d="M217.5,569.6 H228.5 M217.5,569.6 Q214.3,569.6 214.3,573 V591.5 Q214.3,595 217.5,595 H228.5" fill="none" stroke="#231815" stroke-width="1.4" stroke-dasharray="3,2"/>
<path d="M231.5,561.2 H238.3 M231.5,561.2 Q228.5,561.2 228.5,565 V599.5 Q228.5,603.4 231.5,603.4 H234" fill="none" stroke="#231815" stroke-width="1.3" stroke-dasharray="3,2"/>
<rect x="238.3" y="561.2" width="28.5" height="34.1" fill="none" stroke="#231815" stroke-width="1.4" stroke-dasharray="3,2"/>
<line x1="238.3" y1="569.6" x2="266.8" y2="569.6" stroke="#231815" stroke-width="1.3" stroke-dasharray="3,2"/>
<path d="M266.8,569.6 H271 L273.6,573 V592 L271,595.3 H266.8" fill="none" stroke="#231815" stroke-width="1.3" stroke-dasharray="3,2"/>
<line x1="270.5" y1="570" x2="270.5" y2="595" stroke="#231815" stroke-width="1" stroke-dasharray="3,2"/>
<line x1="234" y1="603.7" x2="266.8" y2="603.7" stroke="#231815" stroke-width="1.3" stroke-dasharray="3,2"/>
<line x1="266.8" y1="595.3" x2="266.8" y2="604" stroke="#231815" stroke-width="1.2" stroke-dasharray="3,2"/>
<line x1="211" y1="582.4" x2="275.2" y2="582.4" stroke="#6a5e52" stroke-width="1.1" stroke-dasharray="10,3,2,3"/>
<line x1="159" y1="561.2" x2="238.3" y2="561.2" stroke="#231815" stroke-width="1.3"/>
<line x1="159" y1="592.7" x2="233.4" y2="592.7" stroke="#231815" stroke-width="1.3"/>
<line x1="233.4" y1="591.7" x2="233.4" y2="606.6" stroke="#231815" stroke-width="1.4"/>
<line x1="233.4" y1="598.8" x2="270" y2="598.8" stroke="#231815" stroke-width="1.3"/>
<line x1="162" y1="541" x2="162" y2="770" stroke="#231815" stroke-width="1.3"/>
<polygon points="162,561.2 159.2,552.2 164.8,552.2" fill="#231815"/>
<polygon points="162,592.7 159.2,601.7 164.8,601.7" fill="#231815"/>
<rect x="559" y="557.3" width="28.6" height="49.3" fill="#F6EDDA" stroke="none"/>
<rect x="587.6" y="561.6" width="10.4" height="41.4" fill="#F6EDDA" stroke="none"/>
<rect x="598" y="569.4" width="18" height="25.9" fill="#F6EDDA" stroke="none"/>
<rect x="559" y="606.6" width="18" height="38.9" fill="#F6EDDA" stroke="none"/>
<rect x="577" y="624.7" width="9.7" height="19.1" fill="#F6EDDA" stroke="none"/>
<rect x="559" y="557.3" width="28.6" height="49.3" fill="none" stroke="#231815" stroke-width="1.3" stroke-dasharray="3,2"/>
<path d="M590.6,561.6 H595 Q598,561.6 598,566 V598.6 Q598,603 595,603 H590.6 Q587.6,603 587.6,598.6 V566 Q587.6,561.6 590.6,561.6 Z" fill="none" stroke="#231815" stroke-width="1.2" stroke-dasharray="3,2"/>
<path d="M598,569.4 H613 L616,573 V592 L613,595.3 H598" fill="none" stroke="#231815" stroke-width="1.2" stroke-dasharray="3,2"/>
<line x1="559" y1="569.4" x2="587.6" y2="569.4" stroke="#231815" stroke-width="1.1" stroke-dasharray="3,2"/>
<line x1="559" y1="598" x2="587.6" y2="598" stroke="#231815" stroke-width="1.1" stroke-dasharray="3,2"/>
<path d="M577,606.6 V645.5 H559 M577,624.7 H586.7 V643.8 H577" fill="none" stroke="#231815" stroke-width="1.2" stroke-dasharray="3,2"/>
<line x1="554.8" y1="582.4" x2="618.7" y2="582.4" stroke="#231815" stroke-width="0.8" stroke-dasharray="12,3,2,3"/>
<line x1="566" y1="634.8" x2="594" y2="634.8" stroke="#231815" stroke-width="0.8"/>
<line x1="559" y1="591.9" x2="691.6" y2="591.9" stroke="#231815" stroke-width="1.3"/>
<line x1="598" y1="606.6" x2="668" y2="606.6" stroke="#231815" stroke-width="1.3"/>
<line x1="496" y1="638.6" x2="647" y2="638.6" stroke="#231815" stroke-width="1.3"/>
<line x1="496" y1="702.5" x2="647" y2="702.5" stroke="#231815" stroke-width="1.3"/>
<line x1="559" y1="730.6" x2="644" y2="730.6" stroke="#231815" stroke-width="1.2"/>
<line x1="559" y1="733.9" x2="667.7" y2="733.9" stroke="#231815" stroke-width="1.2"/>
<line x1="559" y1="740.4" x2="692" y2="740.4" stroke="#231815" stroke-width="1.3"/>
<line x1="688.7" y1="592.5" x2="688.7" y2="740.6" stroke="#231815" stroke-width="1.3"/>
<polygon points="688.7,592.5 685.9,601.5 691.5,601.5" fill="#231815"/>
<polygon points="688.7,740.6 685.9,731.6 691.5,731.6" fill="#231815"/>
<line x1="664.5" y1="607" x2="664.5" y2="769.5" stroke="#231815" stroke-width="1.3"/>
<polygon points="664.5,607 661.7,616 667.3,616" fill="#231815"/>
<polygon points="664.5,733.9 661.7,724.9 667.3,724.9" fill="#231815"/>
<polygon points="664.5,740.4 661.7,749.4 667.3,749.4" fill="#231815"/>
<line x1="640.8" y1="638.6" x2="640.8" y2="702.5" stroke="#231815" stroke-width="1.3"/>
<line x1="640.8" y1="714" x2="640.8" y2="772.7" stroke="#231815" stroke-width="1.3"/>
<polygon points="640.8,638.6 638,647.6 643.6,647.6" fill="#231815"/>
<polygon points="640.8,702.5 638,693.5 643.6,693.5" fill="#231815"/>
<polygon points="640.8,730.6 638,721.6 643.6,721.6" fill="#231815"/>
<polygon points="640.8,740.4 638,749.4 643.6,749.4" fill="#231815"/>
<text x="636.4" y="678.8" font-size="17" fill="#3a3a3a" textLength="17.2" lengthAdjust="spacingAndGlyphs" transform="rotate(-90 636.4 678.8)">30</text>
<text x="660.7" y="677.2" font-size="17" fill="#3a3a3a" textLength="17.2" lengthAdjust="spacingAndGlyphs" transform="rotate(-90 660.7 677.2)">60</text>
<text x="685.5" y="678.3" font-size="17" fill="#3a3a3a" textLength="17.3" lengthAdjust="spacingAndGlyphs" transform="rotate(-90 685.5 678.3)">70</text>
<text x="635.9" y="767.9" font-size="17" fill="#3a3a3a" textLength="20" lengthAdjust="spacingAndGlyphs" transform="rotate(-90 635.9 767.9)">1.5</text>
<text x="660.7" y="763" font-size="17" fill="#3a3a3a" textLength="10.8" lengthAdjust="spacingAndGlyphs" transform="rotate(-90 660.7 763)">3</text>
<line x1="368.5" y1="566" x2="368.5" y2="670.6" stroke="#231815" stroke-width="1.3"/>
<line x1="381.5" y1="566" x2="381.5" y2="670.6" stroke="#231815" stroke-width="1.3"/>
<line x1="347.7" y1="569.4" x2="404" y2="569.4" stroke="#231815" stroke-width="1.3"/>
<polygon points="368.5,569.4 359.5,566.6 359.5,572.2" fill="#231815"/>
<polygon points="381.5,569.4 390.5,566.6 390.5,572.2" fill="#231815"/>
<text x="375" y="565" font-size="17" fill="#3a3a3a" text-anchor="middle">6</text>
<line x1="482.7" y1="646.3" x2="482.7" y2="694" stroke="#231815" stroke-width="1.3"/>
<polygon points="482.7,664.5 479.9,657.5 485.5,657.5" fill="#231815"/>
<polygon points="482.7,675.7 479.9,682.7 485.5,682.7" fill="#231815"/>
<line x1="485.6" y1="671.4" x2="541" y2="703.4" stroke="#231815" stroke-width="1.2"/>
<polygon points="485.6,671.4 493.1,672.5 490.3,677.3" fill="#231815"/>
<line x1="541" y1="703.4" x2="541" y2="815.8" stroke="#231815" stroke-width="1.3"/>
<text x="531.6" y="813.6" font-size="17" fill="#3a3a3a" textLength="9.6" lengthAdjust="spacingAndGlyphs" transform="rotate(-90 531.6 813.6)">5</text>
<text x="522.7" y="802.8" font-size="10" fill="#3a3a3a" textLength="26.8" lengthAdjust="spacingAndGlyphs" transform="rotate(-90 522.7 802.8)">+0.03</text>
<text x="533.9" y="797.8" font-size="10" fill="#3a3a3a" textLength="5" lengthAdjust="spacingAndGlyphs" transform="rotate(-90 533.9 797.8)">0</text>
<g transform="translate(532.3 770.8) rotate(-90)" fill="none" stroke="#3a3a3a" stroke-width="1.15" stroke-linecap="round"><path d="M1.2,-11.5 L2.8,-10.2 M0.9,-7.8 L2.6,-6.6 M0.8,-0.8 L3,-4.6 M5,-9.8 V-12 H13.2 V-9.8 M7.2,-10.6 L7.6,-9 M10.6,-10.6 L10.2,-9 M4.6,-6.6 H13.4 M9,-8.8 V0.3 M8.8,-6 L4.6,-1.2 M9.2,-6 L13.4,-1.2"/></g>
<text x="532.5" y="756" font-size="17" fill="#3a3a3a" textLength="8.3" lengthAdjust="spacingAndGlyphs" transform="rotate(-90 532.5 756)">5</text>
<line x1="190.5" y1="671.4" x2="190.5" y2="733.7" stroke="#231815" stroke-width="1.3"/>
<polygon points="190.5,671.4 187.7,680.4 193.3,680.4" fill="#231815"/>
<polygon points="190.5,733.7 187.7,724.7 193.3,724.7" fill="#231815"/>
<text x="185" y="716" font-size="17" fill="#3a3a3a" textLength="22" lengthAdjust="spacingAndGlyphs" transform="rotate(-90 185 716)">30</text>
<line x1="200" y1="733.7" x2="200" y2="812" stroke="#231815" stroke-width="1.3"/>
<line x1="257.5" y1="702.5" x2="257.5" y2="812" stroke="#231815" stroke-width="1.3"/>
<line x1="375" y1="702.5" x2="375" y2="770" stroke="#231815" stroke-width="1.3"/>
<line x1="491.6" y1="702.5" x2="491.6" y2="812" stroke="#231815" stroke-width="1.3"/>
<line x1="256.8" y1="766" x2="375" y2="766" stroke="#231815" stroke-width="1.3"/>
<polygon points="256.8,766 265.8,763.2 265.8,768.8" fill="#231815"/>
<polygon points="375,766 366,763.2 366,768.8" fill="#231815"/>
<line x1="200" y1="807.3" x2="491.6" y2="807.3" stroke="#231815" stroke-width="1.3"/>
<polygon points="200,807.3 209,804.5 209,810.1" fill="#231815"/>
<polygon points="256.8,807.3 247.8,804.5 247.8,810.1" fill="#231815"/>
<polygon points="256.8,807.3 265.8,804.5 265.8,810.1" fill="#231815"/>
<polygon points="491.6,807.3 482.6,804.5 482.6,810.1" fill="#231815"/>
<text x="316" y="762" font-size="17" fill="#3a3a3a" text-anchor="middle">F</text>
<text x="219.5" y="803" font-size="17" fill="#3a3a3a" textLength="21" lengthAdjust="spacingAndGlyphs">27</text>
<text x="335" y="803" font-size="17" fill="#3a3a3a" textLength="83" lengthAdjust="spacingAndGlyphs">(N/2-1)xF</text>
<text x="151" y="804.7" font-size="17" fill="#3a3a3a" textLength="322.1" lengthAdjust="spacingAndGlyphs" transform="rotate(-90 151 804.7)">14.5(With stroke adjuster at extension end)</text>
<line x1="230" y1="524.3" x2="342" y2="524.3" stroke="#231815" stroke-width="1.3"/>
<line x1="230" y1="524.3" x2="252.6" y2="562.5" stroke="#231815" stroke-width="1.2"/>
<polygon points="253.7,564 246.2,556.8 251,554" fill="#231815"/>
<text x="230" y="501.6" font-size="17" fill="#3a3a3a" textLength="132" lengthAdjust="spacingAndGlyphs">stroke adjuster at</text>
<text x="230" y="518" font-size="17" fill="#3a3a3a" textLength="106" lengthAdjust="spacingAndGlyphs">extension end</text>
<line x1="404" y1="530" x2="554.7" y2="530" stroke="#231815" stroke-width="1.3"/>
<line x1="554.7" y1="530" x2="493" y2="636" stroke="#231815" stroke-width="1.2"/>
<polygon points="492,637 494.6,627 499.5,629.8" fill="#231815"/>
<text x="379" y="521.9" font-size="17" fill="#3a3a3a" textLength="193" lengthAdjust="spacingAndGlyphs">N-M5 x 0.8 thread depth 8</text>
<line x1="593.6" y1="530.5" x2="706" y2="530.5" stroke="#231815" stroke-width="1.3"/>
<line x1="593.6" y1="530.5" x2="575" y2="566.5" stroke="#231815" stroke-width="1.2"/>
<polygon points="574.5,567.5 576.6,557.3 581.6,559.9" fill="#231815"/>
<text x="599.4" y="506" font-size="17" fill="#3a3a3a" textLength="132.6" lengthAdjust="spacingAndGlyphs">stroke adjuster at</text>
<text x="599.4" y="522.5" font-size="17" fill="#3a3a3a" textLength="106.6" lengthAdjust="spacingAndGlyphs">retraction end</text>
<line x1="25.5" y1="871.3" x2="114.8" y2="871.3" stroke="#231815" stroke-width="1.3"/>
<line x1="114.8" y1="871.3" x2="255" y2="676.8" stroke="#231815" stroke-width="1.2"/>
<polygon points="256,676 252.4,685.7 247.9,682.5" fill="#231815"/>
<circle cx="36.4" cy="856.6" r="5.1" fill="none" stroke="#3a3a3a" stroke-width="1.5"/>
<line x1="31.7" y1="861.9" x2="41.3" y2="851.2" stroke="#3a3a3a" stroke-width="1.5"/>
<text x="45.7" y="862.2" font-size="17" fill="#3a3a3a" textLength="8.1" lengthAdjust="spacingAndGlyphs">5</text>
<text x="55.8" y="853.7" font-size="10" fill="#3a3a3a" textLength="33.3" lengthAdjust="spacingAndGlyphs">+0.030</text>
<text x="62.4" y="865.3" font-size="10" fill="#3a3a3a" textLength="6" lengthAdjust="spacingAndGlyphs">0</text>
<text x="89.1" y="862.2" font-size="17" fill="#3a3a3a" textLength="57" lengthAdjust="spacingAndGlyphs">depth 5</text>
<rect x="897.8" y="552.9" width="96.9" height="180.7" fill="#F6EDDA" stroke="none"/>
<line x1="897.8" y1="552.9" x2="994.7" y2="552.9" stroke="#231815" stroke-width="1.2" stroke-dasharray="3,2"/>
<line x1="994.7" y1="552.9" x2="994.7" y2="598.7" stroke="#231815" stroke-width="1.2"/>
<line x1="897.8" y1="526.7" x2="897.8" y2="733.6" stroke="#231815" stroke-width="1.6"/>
<line x1="994.7" y1="526.7" x2="994.7" y2="552.9" stroke="#231815" stroke-width="1.3"/>
<path d="M897.8,584.3 H948.9 L954,589.6 V598.7" fill="none" stroke="#231815" stroke-width="1.4"/>
<polygon points="993.7,573.8 987.8,587.9 973.7,593.8 959.6,587.9 953.7,573.8 959.6,559.7 973.7,553.8 987.8,559.7" fill="none" stroke="#231815" stroke-width="1.2" stroke-dasharray="3,2"/>
<circle cx="973.7" cy="573.8" r="13.5" fill="none" stroke="#231815" stroke-width="1.1" stroke-dasharray="3,2"/>
<circle cx="973.7" cy="573.8" r="10" fill="none" stroke="#231815" stroke-width="1.1" stroke-dasharray="3,2"/>
<line x1="950" y1="573.8" x2="997" y2="573.8" stroke="#231815" stroke-width="0.8" stroke-dasharray="6,2"/>
<line x1="973.7" y1="550" x2="973.7" y2="597" stroke="#231815" stroke-width="0.8" stroke-dasharray="6,2"/>
<path d="M912,598.7 H994.7 V725.8 H912 Q907,725.8 907,720.8 V603.7 Q907,598.7 912,598.7 Z" fill="#F6EDDA" stroke="#231815" stroke-width="1.6"/>
<line x1="897.8" y1="733.6" x2="914.8" y2="733.6" stroke="#231815" stroke-width="1.4"/>
<line x1="920" y1="733.6" x2="926" y2="733.6" stroke="#231815" stroke-width="1.2"/>
<line x1="932" y1="733.6" x2="954" y2="733.6" stroke="#231815" stroke-width="1.4"/>
<path d="M914.8,725.8 V733.6 M926,725.8 V733.6 M932,725.8 V733.6 M954,725.8 L950,733.6" fill="none" stroke="#231815" stroke-width="1.2"/>
<line x1="995.5" y1="617" x2="995.5" y2="644.8" stroke="#231815" stroke-width="1.9"/>
<line x1="995.5" y1="681.8" x2="995.5" y2="725" stroke="#231815" stroke-width="1.9"/>
<line x1="907" y1="610.3" x2="927" y2="610.3" stroke="#231815" stroke-width="1.2"/>
<line x1="907" y1="645.3" x2="927" y2="645.3" stroke="#231815" stroke-width="1.2"/>
<circle cx="927" cy="627.8" r="19.8" fill="none" stroke="#231815" stroke-width="1.4"/>
<circle cx="927" cy="627.8" r="10.8" fill="none" stroke="#231815" stroke-width="1.2"/>
<polygon points="930.6,629.9 927,632 923.4,629.9 923.4,625.7 927,623.6 930.6,625.7" fill="none" stroke="#231815" stroke-width="1"/>
<line x1="927" y1="604.8" x2="927" y2="650.8" stroke="#231815" stroke-width="0.8"/>
<line x1="905" y1="627.8" x2="950" y2="627.8" stroke="#231815" stroke-width="0.8"/>
<path d="M913,617.8 A22,22 0 0 0 913,637.8" fill="none" stroke="#231815" stroke-width="1"/>
<path d="M916,616.8 A22,22 0 0 0 916,638.8" fill="none" stroke="#231815" stroke-width="0.7"/>
<line x1="907" y1="679.5" x2="927" y2="679.5" stroke="#231815" stroke-width="1.2"/>
<line x1="907" y1="714.5" x2="927" y2="714.5" stroke="#231815" stroke-width="1.2"/>
<circle cx="927" cy="697" r="19.8" fill="none" stroke="#231815" stroke-width="1.4"/>
<circle cx="927" cy="697" r="10.8" fill="none" stroke="#231815" stroke-width="1.2"/>
<polygon points="930.6,699.1 927,701.2 923.4,699.1 923.4,694.9 927,692.8 930.6,694.9" fill="none" stroke="#231815" stroke-width="1"/>
<line x1="927" y1="674" x2="927" y2="720" stroke="#231815" stroke-width="0.8"/>
<line x1="905" y1="697" x2="950" y2="697" stroke="#231815" stroke-width="0.8"/>
<path d="M913,687 A22,22 0 0 0 913,707" fill="none" stroke="#231815" stroke-width="1"/>
<path d="M916,686 A22,22 0 0 0 916,708" fill="none" stroke="#231815" stroke-width="0.7"/>
<circle cx="938.5" cy="662.5" r="10" fill="none" stroke="#231815" stroke-width="1.2"/>
<circle cx="938.5" cy="662.5" r="8.4" fill="none" stroke="#231815" stroke-width="0.8"/>
<line x1="938.5" y1="651" x2="938.5" y2="674" stroke="#231815" stroke-width="0.7"/>
<circle cx="957.5" cy="625.7" r="5.3" fill="none" stroke="#231815" stroke-width="1.6"/>
<line x1="950.5" y1="625.7" x2="964.5" y2="625.7" stroke="#231815" stroke-width="0.7"/>
<line x1="957.5" y1="618.7" x2="957.5" y2="632.7" stroke="#231815" stroke-width="0.7"/>
<circle cx="957.5" cy="699.6" r="5.3" fill="none" stroke="#231815" stroke-width="1.6"/>
<line x1="950.5" y1="699.6" x2="964.5" y2="699.6" stroke="#231815" stroke-width="0.7"/>
<line x1="957.5" y1="692.6" x2="957.5" y2="706.6" stroke="#231815" stroke-width="0.7"/>
<circle cx="980.1" cy="662.7" r="5.3" fill="none" stroke="#231815" stroke-width="1.6"/>
<line x1="973.1" y1="662.7" x2="987.1" y2="662.7" stroke="#231815" stroke-width="0.7"/>
<line x1="980.1" y1="655.7" x2="980.1" y2="669.7" stroke="#231815" stroke-width="0.7"/>
<circle cx="970.1" cy="610.9" r="9.2" fill="none" stroke="#231815" stroke-width="1.6"/>
<circle cx="970.1" cy="610.9" r="6.5" fill="none" stroke="#231815" stroke-width="0.7"/>
<polygon points="974.1,610.9 972.1,614.4 968.1,614.4 966.1,610.9 968.1,607.4 972.1,607.4" fill="none" stroke="#231815" stroke-width="1.1"/>
<line x1="965.1" y1="610.9" x2="975.1" y2="610.9" stroke="#231815" stroke-width="0.6"/>
<line x1="970.1" y1="605.9" x2="970.1" y2="615.9" stroke="#231815" stroke-width="0.6"/>
<circle cx="984" cy="642.5" r="9.2" fill="none" stroke="#231815" stroke-width="1.6"/>
<circle cx="984" cy="642.5" r="6.5" fill="none" stroke="#231815" stroke-width="0.7"/>
<polygon points="988,642.5 986,646 982,646 980,642.5 982,639 986,639" fill="none" stroke="#231815" stroke-width="1.1"/>
<line x1="979" y1="642.5" x2="989" y2="642.5" stroke="#231815" stroke-width="0.6"/>
<line x1="984" y1="637.5" x2="984" y2="647.5" stroke="#231815" stroke-width="0.6"/>
<circle cx="984" cy="682.5" r="9.2" fill="none" stroke="#231815" stroke-width="1.6"/>
<circle cx="984" cy="682.5" r="6.5" fill="none" stroke="#231815" stroke-width="0.7"/>
<polygon points="988,682.5 986,686 982,686 980,682.5 982,679 986,679" fill="none" stroke="#231815" stroke-width="1.1"/>
<line x1="979" y1="682.5" x2="989" y2="682.5" stroke="#231815" stroke-width="0.6"/>
<line x1="984" y1="677.5" x2="984" y2="687.5" stroke="#231815" stroke-width="0.6"/>
<circle cx="970.1" cy="714.1" r="9.2" fill="none" stroke="#231815" stroke-width="1.6"/>
<circle cx="970.1" cy="714.1" r="6.5" fill="none" stroke="#231815" stroke-width="0.7"/>
<polygon points="974.1,714.1 972.1,717.6 968.1,717.6 966.1,714.1 968.1,710.6 972.1,710.6" fill="none" stroke="#231815" stroke-width="1.1"/>
<line x1="965.1" y1="714.1" x2="975.1" y2="714.1" stroke="#231815" stroke-width="0.6"/>
<line x1="970.1" y1="709.1" x2="970.1" y2="719.1" stroke="#231815" stroke-width="0.6"/>
<line x1="870" y1="662.9" x2="968" y2="662.9" stroke="#231815" stroke-width="1.2"/>
<line x1="975" y1="662.9" x2="1000" y2="662.9" stroke="#231815" stroke-width="0.8"/>
<line x1="844" y1="625.7" x2="949" y2="625.7" stroke="#231815" stroke-width="1.3"/>
<line x1="844" y1="699.6" x2="947" y2="699.6" stroke="#231815" stroke-width="1.3"/>
<line x1="848.8" y1="625.7" x2="848.8" y2="699.6" stroke="#231815" stroke-width="1.3"/>
<polygon points="848.8,625.7 846,634.7 851.6,634.7" fill="#231815"/>
<polygon points="848.8,699.6 846,690.6 851.6,690.6" fill="#231815"/>
<line x1="872.9" y1="662.9" x2="872.9" y2="699.6" stroke="#231815" stroke-width="1.3"/>
<polygon points="872.9,662.9 870.1,669.9 875.7,669.9" fill="#231815"/>
<polygon points="872.9,699.6 870.1,692.6 875.7,692.6" fill="#231815"/>
<text x="843.9" y="675" font-size="17" fill="#3a3a3a" textLength="17" lengthAdjust="spacingAndGlyphs" transform="rotate(-90 843.9 675)">35</text>
<text x="867.7" y="694" font-size="17" fill="#3a3a3a" textLength="29.3" lengthAdjust="spacingAndGlyphs" transform="rotate(-90 867.7 694)">17.5</text>
<line x1="859.8" y1="528.8" x2="1051" y2="528.8" stroke="#231815" stroke-width="1.3"/>
<polygon points="897.8,528.8 906.8,526 906.8,531.6" fill="#231815"/>
<polygon points="994.7,528.8 985.7,526 985.7,531.6" fill="#231815"/>
<text x="824.4" y="514.9" font-size="17" fill="#3a3a3a" textLength="324.9" lengthAdjust="spacingAndGlyphs">45.5(With stroke adjuster at extension end)</text>
<line x1="958" y1="699.6" x2="958" y2="788.7" stroke="#231815" stroke-width="1.3"/>
<line x1="980.3" y1="662.9" x2="980.3" y2="760" stroke="#231815" stroke-width="1.3"/>
<line x1="994.7" y1="725.8" x2="994.7" y2="788.7" stroke="#231815" stroke-width="1.3"/>
<line x1="958" y1="757.7" x2="1017" y2="757.7" stroke="#231815" stroke-width="1.3"/>
<polygon points="980.3,757.7 971.3,754.9 971.3,760.5" fill="#231815"/>
<polygon points="994.7,757.7 1003.7,754.9 1003.7,760.5" fill="#231815"/>
<line x1="958" y1="785.5" x2="994.7" y2="785.5" stroke="#231815" stroke-width="1.3"/>
<polygon points="958,785.5 967,782.7 967,788.3" fill="#231815"/>
<polygon points="994.7,785.5 985.7,782.7 985.7,788.3" fill="#231815"/>
<text x="989.5" y="754.6" font-size="17" fill="#3a3a3a" text-anchor="middle">7</text>
<text x="976.4" y="779.5" font-size="17" fill="#3a3a3a" text-anchor="middle">18</text>
<line x1="852" y1="820.6" x2="1005" y2="820.6" stroke="#231815" stroke-width="1.3"/>
<line x1="852" y1="820.6" x2="952.8" y2="706" stroke="#231815" stroke-width="1.2"/>
<polygon points="953.5,705 949,714.4 944.8,710.7" fill="#231815"/>
<text x="872.9" y="814.9" font-size="17" fill="#3a3a3a" textLength="183.4" lengthAdjust="spacingAndGlyphs">3-M6 x1 thread depth 13</text>
<rect x="1179.3" y="561" width="45.7" height="53" fill="#F6EDDA" stroke="none"/>
<path d="M1179.3,614 V568.6 L1187.8,561 H1225 V614" fill="none" stroke="#231815" stroke-width="1.2" stroke-dasharray="3,2"/>
<polygon points="1219.1,597.9 1202.2,607.6 1185.3,597.9 1185.3,578.4 1202.2,568.6 1219.1,578.4" fill="none" stroke="#231815" stroke-width="1.2"/>
<circle cx="1202.2" cy="588.1" r="13.5" fill="none" stroke="#231815" stroke-width="1.1" stroke-dasharray="2,2"/>
<circle cx="1202.2" cy="588.1" r="10.5" fill="none" stroke="#231815" stroke-width="1" stroke-dasharray="2,2"/>
<line x1="1181" y1="588.1" x2="1226" y2="588.1" stroke="#231815" stroke-width="0.8" stroke-dasharray="8,2,2,2"/>
<line x1="1202.2" y1="565" x2="1202.2" y2="611" stroke="#231815" stroke-width="0.8" stroke-dasharray="8,2,2,2"/>
<path d="M1187,612.7 H1216 L1220.8,617.5 V746.6 L1215.8,751.7 H1182.7 L1179.3,747.5 V617 Q1179.3,612.7 1183,612.7 Z" fill="#F6EDDA" stroke="#231815" stroke-width="1.4"/>
<path d="M1204,636.4 H1214 L1216,638.5 L1218.5,638 L1220.8,641 V720 L1218.5,723 L1216,722.5 L1214,724.6 H1204 Q1200.5,724.6 1200.5,721 V640 Q1200.5,636.4 1204,636.4 Z" fill="none" stroke="#231815" stroke-width="1.3"/>
<line x1="1200.8" y1="640" x2="1200.8" y2="721" stroke="#231815" stroke-width="2.2"/>
<rect x="1225" y="561" width="60.2" height="34" fill="#F6EDDA" stroke="none"/>
<line x1="1225" y1="561" x2="1285.2" y2="561" stroke="#231815" stroke-width="1.2" stroke-dasharray="3,2"/>
<line x1="1283.6" y1="561" x2="1283.6" y2="594.4" stroke="#231815" stroke-width="1.2" stroke-dasharray="3,2"/>
<path d="M1230,594.4 H1285.2 V758.5 H1265 V755 A5.5,5.5 0 1 0 1255,752.5 V758.5 H1253.5 V755 A5.5,5.5 0 1 0 1243.5,752.5 V758.5 H1229 Q1225,758.5 1225,754 V599.2 Z" fill="#F6EDDA" stroke="#231815" stroke-width="1.4"/>
<line x1="1285.2" y1="530" x2="1285.2" y2="758.5" stroke="#231815" stroke-width="1.6"/>
<line x1="1283.6" y1="599" x2="1283.6" y2="758.5" stroke="#231815" stroke-width="0.8"/>
<rect x="1224.2" y="595.8" width="59.4" height="97.4" fill="none" stroke="#231815" stroke-width="1.2" stroke-dasharray="3,2"/>
<line x1="1225" y1="594.4" x2="1217" y2="605" stroke="#231815" stroke-width="1.2"/>
<circle cx="1236.1" cy="608.5" r="10" fill="none" stroke="#231815" stroke-width="1" stroke-dasharray="3,2"/>
<circle cx="1236.1" cy="608.5" r="5" fill="none" stroke="#231815" stroke-width="2"/>
<line x1="1230.1" y1="608.5" x2="1242.1" y2="608.5" stroke="#231815" stroke-width="0.7"/>
<line x1="1236.1" y1="600.5" x2="1236.1" y2="614.5" stroke="#231815" stroke-width="0.7"/>
<circle cx="1236.1" cy="681.4" r="10" fill="none" stroke="#231815" stroke-width="1" stroke-dasharray="3,2"/>
<circle cx="1236.1" cy="681.4" r="5" fill="none" stroke="#231815" stroke-width="2"/>
<line x1="1230.1" y1="681.4" x2="1242.1" y2="681.4" stroke="#231815" stroke-width="0.7"/>
<line x1="1236.1" y1="673.4" x2="1236.1" y2="687.4" stroke="#231815" stroke-width="0.7"/>
<circle cx="1271.7" cy="608.5" r="10" fill="none" stroke="#231815" stroke-width="1" stroke-dasharray="3,2"/>
<circle cx="1271.7" cy="608.5" r="5" fill="none" stroke="#231815" stroke-width="2"/>
<line x1="1265.7" y1="608.5" x2="1277.7" y2="608.5" stroke="#231815" stroke-width="0.7"/>
<line x1="1271.7" y1="600.5" x2="1271.7" y2="614.5" stroke="#231815" stroke-width="0.7"/>
<circle cx="1271.7" cy="681.4" r="10" fill="none" stroke="#231815" stroke-width="1" stroke-dasharray="3,2"/>
<circle cx="1271.7" cy="681.4" r="5" fill="none" stroke="#231815" stroke-width="2"/>
<line x1="1265.7" y1="681.4" x2="1277.7" y2="681.4" stroke="#231815" stroke-width="0.7"/>
<line x1="1271.7" y1="673.4" x2="1271.7" y2="687.4" stroke="#231815" stroke-width="0.7"/>
<circle cx="1253" cy="644" r="25.4" fill="none" stroke="#231815" stroke-width="1.2"/>
<circle cx="1253" cy="644" r="23.6" fill="none" stroke="#231815" stroke-width="0.8"/>
<circle cx="1253" cy="644" r="17" fill="none" stroke="#231815" stroke-width="1.2"/>
<line x1="1225" y1="644" x2="1281" y2="644" stroke="#231815" stroke-width="0.8" stroke-dasharray="8,3,2,3"/>
<line x1="1253" y1="615" x2="1253" y2="673" stroke="#231815" stroke-width="0.8" stroke-dasharray="8,3,2,3"/>
<circle cx="1245.4" cy="665.3" r="2.3" fill="none" stroke="#231815" stroke-width="1"/>
<circle cx="1260.7" cy="665.3" r="2.3" fill="none" stroke="#231815" stroke-width="1"/>
<circle cx="1253" cy="718.6" r="25.4" fill="none" stroke="#231815" stroke-width="1.2"/>
<circle cx="1253" cy="718.6" r="23.6" fill="none" stroke="#231815" stroke-width="0.8"/>
<circle cx="1253" cy="718.6" r="17" fill="none" stroke="#231815" stroke-width="1.2"/>
<line x1="1225" y1="718.6" x2="1281" y2="718.6" stroke="#231815" stroke-width="0.8" stroke-dasharray="8,3,2,3"/>
<line x1="1253" y1="689.6" x2="1253" y2="747.6" stroke="#231815" stroke-width="0.8" stroke-dasharray="8,3,2,3"/>
<circle cx="1245.4" cy="739.9" r="2.3" fill="none" stroke="#231815" stroke-width="1"/>
<circle cx="1260.7" cy="739.9" r="2.3" fill="none" stroke="#231815" stroke-width="1"/>
<line x1="1164.8" y1="682" x2="1325" y2="682" stroke="#231815" stroke-width="1.3"/>
<line x1="1275" y1="608.5" x2="1325" y2="608.5" stroke="#231815" stroke-width="1.3"/>
<line x1="1286" y1="759" x2="1325" y2="759" stroke="#231815" stroke-width="1.3"/>
<line x1="1320" y1="608.5" x2="1320" y2="759" stroke="#231815" stroke-width="1.3"/>
<polygon points="1320,608.5 1317.2,617.5 1322.8,617.5" fill="#231815"/>
<polygon points="1320,682 1317.2,673 1322.8,673" fill="#231815"/>
<polygon points="1320,682 1317.2,691 1322.8,691" fill="#231815"/>
<polygon points="1320,759 1317.2,750 1322.8,750" fill="#231815"/>
<text x="1316.8" y="655.6" font-size="17" fill="#3a3a3a" textLength="17" lengthAdjust="spacingAndGlyphs" transform="rotate(-90 1316.8 655.6)">31</text>
<text x="1316.8" y="733.6" font-size="17" fill="#3a3a3a" textLength="17" lengthAdjust="spacingAndGlyphs" transform="rotate(-90 1316.8 733.6)">33</text>
<line x1="1236.3" y1="530" x2="1236.3" y2="608.5" stroke="#231815" stroke-width="1.3"/>
<line x1="1272" y1="530" x2="1272" y2="608.5" stroke="#231815" stroke-width="1.3"/>
<line x1="1285.6" y1="530" x2="1285.6" y2="560.4" stroke="#231815" stroke-width="1.3"/>
<line x1="1236.3" y1="534.5" x2="1315" y2="534.5" stroke="#231815" stroke-width="1.3"/>
<polygon points="1236.3,534.5 1245.3,531.7 1245.3,537.3" fill="#231815"/>
<polygon points="1272,534.5 1263,531.7 1263,537.3" fill="#231815"/>
<polygon points="1285.6,534.5 1294.6,531.7 1294.6,537.3" fill="#231815"/>
<text x="1253.6" y="527" font-size="17" fill="#3a3a3a" text-anchor="middle">15</text>
<text x="1305.4" y="527" font-size="17" fill="#3a3a3a" text-anchor="middle">6</text>
<line x1="1174.7" y1="803.4" x2="1333.7" y2="803.4" stroke="#231815" stroke-width="1.3"/>
<line x1="1174.7" y1="803.4" x2="1231.4" y2="687.4" stroke="#231815" stroke-width="1.2"/>
<polygon points="1232,686 1230.1,696.2 1225.1,693.8" fill="#231815"/>
<text x="1190.7" y="794.7" font-size="17" fill="#3a3a3a" textLength="191.1" lengthAdjust="spacingAndGlyphs">4-M5 x 0.8 thread depth 8</text>
<rect x="114.6" y="1085.7" width="272.4" height="29.1" fill="#F6EDDA" stroke="none"/>
<rect x="118.5" y="1114.8" width="270.1" height="51.8" fill="#F6EDDA" stroke="none"/>
<rect x="91.6" y="1085.7" width="23" height="73.5" fill="#F6EDDA" stroke="#231815" stroke-width="1.6"/>
<line x1="91.6" y1="1091.8" x2="114.6" y2="1091.8" stroke="#231815" stroke-width="1.2"/>
<line x1="68.8" y1="1085.7" x2="114.6" y2="1085.7" stroke="#231815" stroke-width="2.4"/>
<line x1="68.8" y1="1159.2" x2="114.6" y2="1159.2" stroke="#231815" stroke-width="1.3"/>
<line x1="114.6" y1="1085.7" x2="387" y2="1085.7" stroke="#231815" stroke-width="1.3"/>
<line x1="114.6" y1="1090.5" x2="283.5" y2="1090.5" stroke="#231815" stroke-width="1.2"/>
<line x1="327.3" y1="1090.5" x2="342.4" y2="1090.5" stroke="#231815" stroke-width="1.2"/>
<line x1="114.6" y1="1112.7" x2="283.5" y2="1112.7" stroke="#231815" stroke-width="1.2"/>
<line x1="327.3" y1="1112.7" x2="342.4" y2="1112.7" stroke="#231815" stroke-width="1.2"/>
<rect x="283.5" y="1086.6" width="43.8" height="28.2" fill="#F6EDDA" stroke="#231815" stroke-width="1.4"/>
<rect x="342.4" y="1086.6" width="44.6" height="28.2" fill="#F6EDDA" stroke="#231815" stroke-width="1.4"/>
<line x1="114.6" y1="1118.4" x2="388.6" y2="1118.4" stroke="#5a4c40" stroke-width="3.6"/>
<line x1="118.5" y1="1125.3" x2="388.6" y2="1125.3" stroke="#231815" stroke-width="1.3"/>
<line x1="118.5" y1="1133.8" x2="388.6" y2="1133.8" stroke="#231815" stroke-width="1.3"/>
<line x1="118.5" y1="1139.7" x2="388.6" y2="1139.7" stroke="#231815" stroke-width="1.3"/>
<line x1="118.5" y1="1145" x2="388.6" y2="1145" stroke="#231815" stroke-width="1.3"/>
<line x1="118.5" y1="1150.2" x2="388.6" y2="1150.2" stroke="#231815" stroke-width="1.3"/>
<line x1="118.5" y1="1166.6" x2="388.6" y2="1166.6" stroke="#231815" stroke-width="1.4"/>
<line x1="118.5" y1="1118.4" x2="118.5" y2="1166.6" stroke="#231815" stroke-width="1.4"/>
<line x1="387" y1="1085.7" x2="387" y2="1115" stroke="#231815" stroke-width="1.4"/>
<line x1="388.6" y1="1117" x2="388.6" y2="1212" stroke="#231815" stroke-width="1.3"/>
<line x1="104" y1="1141.5" x2="125" y2="1141.5" stroke="#231815" stroke-width="1" stroke-dasharray="4,2"/>
<circle cx="294.5" cy="1097.1" r="5" fill="none" stroke="#231815" stroke-width="1.8"/>
<line x1="292" y1="1097.1" x2="297" y2="1097.1" stroke="#231815" stroke-width="0.7"/>
<line x1="294.5" y1="1094.6" x2="294.5" y2="1099.6" stroke="#231815" stroke-width="0.7"/>
<line x1="294.5" y1="1064" x2="294.5" y2="1092" stroke="#231815" stroke-width="1.3"/>
<circle cx="315.5" cy="1097.1" r="5" fill="none" stroke="#231815" stroke-width="1.8"/>
<line x1="313" y1="1097.1" x2="318" y2="1097.1" stroke="#231815" stroke-width="0.7"/>
<line x1="315.5" y1="1094.6" x2="315.5" y2="1099.6" stroke="#231815" stroke-width="0.7"/>
<line x1="315.5" y1="1064" x2="315.5" y2="1092" stroke="#231815" stroke-width="1.3"/>
<circle cx="354.2" cy="1097.1" r="5" fill="none" stroke="#231815" stroke-width="1.8"/>
<line x1="351.7" y1="1097.1" x2="356.7" y2="1097.1" stroke="#231815" stroke-width="0.7"/>
<line x1="354.2" y1="1094.6" x2="354.2" y2="1099.6" stroke="#231815" stroke-width="0.7"/>
<line x1="354.2" y1="1024" x2="354.2" y2="1092" stroke="#231815" stroke-width="1.3"/>
<circle cx="375.5" cy="1097.1" r="5" fill="none" stroke="#231815" stroke-width="1.8"/>
<line x1="373" y1="1097.1" x2="378" y2="1097.1" stroke="#231815" stroke-width="0.7"/>
<line x1="375.5" y1="1094.6" x2="375.5" y2="1099.6" stroke="#231815" stroke-width="0.7"/>
<line x1="375.5" y1="1024" x2="375.5" y2="1092" stroke="#231815" stroke-width="1.3"/>
<line x1="91.6" y1="983" x2="91.6" y2="1212" stroke="#231815" stroke-width="1.3"/>
<line x1="114.6" y1="983" x2="114.6" y2="1085.7" stroke="#231815" stroke-width="1.3"/>
<line x1="283.5" y1="1044.7" x2="283.5" y2="1086.6" stroke="#231815" stroke-width="1.3"/>
<line x1="327.3" y1="1044.7" x2="327.3" y2="1086.6" stroke="#231815" stroke-width="1.3"/>
<line x1="342.4" y1="1006" x2="342.4" y2="1086.6" stroke="#231815" stroke-width="1.3"/>
<line x1="386.8" y1="984" x2="386.8" y2="1085.7" stroke="#231815" stroke-width="1.3"/>
<line x1="118.6" y1="1170" x2="118.6" y2="1192" stroke="#231815" stroke-width="1.3"/>
<line x1="91.6" y1="986.8" x2="386.8" y2="986.8" stroke="#231815" stroke-width="1.3"/>
<polygon points="91.6,986.8 98.6,984 98.6,989.6" fill="#231815"/>
<polygon points="114.6,986.8 107.6,984 107.6,989.6" fill="#231815"/>
<polygon points="114.6,986.8 123.6,984 123.6,989.6" fill="#231815"/>
<polygon points="386.8,986.8 377.8,984 377.8,989.6" fill="#231815"/>
<line x1="114.6" y1="1008.5" x2="342.4" y2="1008.5" stroke="#231815" stroke-width="1.3"/>
<polygon points="114.6,1008.5 123.6,1005.7 123.6,1011.3" fill="#231815"/>
<polygon points="342.4,1008.5 333.4,1005.7 333.4,1011.3" fill="#231815"/>
<line x1="114.6" y1="1047.3" x2="327.3" y2="1047.3" stroke="#231815" stroke-width="1.3"/>
<polygon points="114.6,1047.3 123.6,1044.5 123.6,1050.1" fill="#231815"/>
<polygon points="283.5,1047.3 274.5,1044.5 274.5,1050.1" fill="#231815"/>
<polygon points="283.5,1047.3 292.5,1044.5 292.5,1050.1" fill="#231815"/>
<polygon points="327.3,1047.3 318.3,1044.5 318.3,1050.1" fill="#231815"/>
<line x1="253" y1="1067.6" x2="315.9" y2="1067.6" stroke="#231815" stroke-width="1.3"/>
<polygon points="283.5,1067.6 274.5,1064.8 274.5,1070.4" fill="#231815"/>
<polygon points="294.5,1067.6 300.5,1064.8 300.5,1070.4" fill="#231815"/>
<polygon points="315.5,1067.6 309.5,1064.8 309.5,1070.4" fill="#231815"/>
<line x1="313.2" y1="1027" x2="376.1" y2="1027" stroke="#231815" stroke-width="1.3"/>
<polygon points="342.4,1027 333.4,1024.2 333.4,1029.8" fill="#231815"/>
<polygon points="354.2,1027 360.2,1024.2 360.2,1029.8" fill="#231815"/>
<polygon points="375.5,1027 369.5,1024.2 369.5,1029.8" fill="#231815"/>
<line x1="118.6" y1="1187.4" x2="386.8" y2="1187.4" stroke="#231815" stroke-width="1.3"/>
<polygon points="118.6,1187.4 127.6,1184.6 127.6,1190.2" fill="#231815"/>
<polygon points="386.8,1187.4 377.8,1184.6 377.8,1190.2" fill="#231815"/>
<line x1="91.6" y1="1207" x2="388.6" y2="1207" stroke="#231815" stroke-width="1.3"/>
<polygon points="91.6,1207 100.6,1204.2 100.6,1209.8" fill="#231815"/>
<polygon points="388.6,1207 379.6,1204.2 379.6,1209.8" fill="#231815"/>
<line x1="71" y1="1055" x2="71" y2="1159.2" stroke="#231815" stroke-width="1.3"/>
<polygon points="71,1085.7 68.2,1076.7 73.8,1076.7" fill="#231815"/>
<polygon points="71,1085.7 68.2,1094.7 73.8,1094.7" fill="#231815"/>
<polygon points="71,1159.2 68.2,1150.2 73.8,1150.2" fill="#231815"/>
<line x1="387" y1="1085.3" x2="435.7" y2="1085.3" stroke="#231815" stroke-width="1.3"/>
<line x1="381" y1="1097.1" x2="412.8" y2="1097.1" stroke="#231815" stroke-width="1.3"/>
<line x1="388.6" y1="1166.6" x2="435.7" y2="1166.6" stroke="#231815" stroke-width="1.3"/>
<line x1="408.6" y1="1069" x2="408.6" y2="1130" stroke="#231815" stroke-width="1.3"/>
<polygon points="408.6,1085.3 405.8,1078.3 411.4,1078.3" fill="#231815"/>
<polygon points="408.6,1097.1 405.8,1104.1 411.4,1104.1" fill="#231815"/>
<line x1="433.1" y1="1085.3" x2="433.1" y2="1166.6" stroke="#231815" stroke-width="1.3"/>
<polygon points="433.1,1085.3 430.3,1094.3 435.9,1094.3" fill="#231815"/>
<polygon points="433.1,1166.6 430.3,1157.6 435.9,1157.6" fill="#231815"/>
<text x="406.5" y="1129" font-size="17" fill="#3a3a3a" textLength="21" lengthAdjust="spacingAndGlyphs" transform="rotate(-90 406.5 1129)">6.5</text>
<text x="430" y="1130" font-size="17" fill="#3a3a3a" textLength="17" lengthAdjust="spacingAndGlyphs" transform="rotate(-90 430 1130)">46</text>
<text x="65.2" y="1081.9" font-size="17" fill="#3a3a3a" textLength="21.3" lengthAdjust="spacingAndGlyphs" transform="rotate(-90 65.2 1081.9)">0.5</text>
<text x="65.2" y="1136" font-size="17" fill="#3a3a3a" textLength="31.5" lengthAdjust="spacingAndGlyphs" transform="rotate(-90 65.2 1136)">41.5</text>
<text x="95.3" y="980.2" font-size="17" fill="#3a3a3a" textLength="16.6" lengthAdjust="spacingAndGlyphs">13</text>
<text x="255" y="985" font-size="17" fill="#3a3a3a" text-anchor="middle">M</text>
<text x="239.7" y="1006.4" font-size="17" fill="#3a3a3a" text-anchor="middle">KA</text>
<text x="204" y="1044.5" font-size="17" fill="#3a3a3a" text-anchor="middle">K</text>
<text x="304.5" y="1044" font-size="17" fill="#3a3a3a" text-anchor="middle">23</text>
<text x="267.7" y="1064" font-size="17" fill="#3a3a3a" text-anchor="middle">5.5</text>
<text x="305.4" y="1064" font-size="17" fill="#3a3a3a" text-anchor="middle">12</text>
<text x="327.5" y="1024" font-size="17" fill="#3a3a3a" text-anchor="middle">5.5</text>
<text x="365" y="1024" font-size="17" fill="#3a3a3a" text-anchor="middle">12</text>
<text x="236.4" y="1184" font-size="17" fill="#3a3a3a" text-anchor="middle">Z</text>
<text x="236.4" y="1204" font-size="17" fill="#3a3a3a" text-anchor="middle">ZZ</text>
<line x1="407.7" y1="1033.6" x2="537.3" y2="1033.6" stroke="#231815" stroke-width="1.3"/>
<line x1="407.7" y1="1033.6" x2="381.5" y2="1089" stroke="#231815" stroke-width="1.2"/>
<polygon points="380.6,1090.5 381.1,1083 386.1,1085.4" fill="#231815"/>
<text x="407.7" y="1027.3" font-size="17" fill="#3a3a3a" textLength="188.1" lengthAdjust="spacingAndGlyphs">NA-M6 x1 thread depth 6</text>
<rect x="652" y="1067.6" width="199.2" height="115" fill="#F6EDDA" stroke="#231815" stroke-width="1.6"/>
<rect x="626.2" y="1071.6" width="22.2" height="99.9" fill="#F6EDDA" stroke="#231815" stroke-width="1.3"/>
<rect x="648.4" y="1071.6" width="3.6" height="99.9" fill="#F6EDDA" stroke="#231815" stroke-width="1.1"/>
<line x1="648.4" y1="1082.7" x2="652" y2="1082.7" stroke="#231815" stroke-width="0.7"/>
<line x1="648.4" y1="1093.8" x2="652" y2="1093.8" stroke="#231815" stroke-width="0.7"/>
<line x1="648.4" y1="1104.9" x2="652" y2="1104.9" stroke="#231815" stroke-width="0.7"/>
<line x1="648.4" y1="1116" x2="652" y2="1116" stroke="#231815" stroke-width="0.7"/>
<line x1="648.4" y1="1127.1" x2="652" y2="1127.1" stroke="#231815" stroke-width="0.7"/>
<line x1="648.4" y1="1138.2" x2="652" y2="1138.2" stroke="#231815" stroke-width="0.7"/>
<line x1="648.4" y1="1149.3" x2="652" y2="1149.3" stroke="#231815" stroke-width="0.7"/>
<line x1="648.4" y1="1160.4" x2="652" y2="1160.4" stroke="#231815" stroke-width="0.7"/>
<rect x="628.2" y="1079.8" width="8" height="31" fill="none" stroke="#231815" stroke-width="1.3"/>
<line x1="630.7" y1="1079.8" x2="630.7" y2="1110.8" stroke="#231815" stroke-width="0.8"/>
<line x1="636.2" y1="1086" x2="648.4" y2="1086" stroke="#231815" stroke-width="2.2"/>
<line x1="636.2" y1="1104.6" x2="648.4" y2="1104.6" stroke="#231815" stroke-width="2.2"/>
<line x1="623.2" y1="1095.3" x2="658" y2="1095.3" stroke="#231815" stroke-width="0.8" stroke-dasharray="8,3,2,3"/>
<rect x="628.2" y="1132.2" width="8" height="31" fill="none" stroke="#231815" stroke-width="1.3"/>
<line x1="630.7" y1="1132.2" x2="630.7" y2="1163.2" stroke="#231815" stroke-width="0.8"/>
<line x1="636.2" y1="1138.4" x2="648.4" y2="1138.4" stroke="#231815" stroke-width="2.2"/>
<line x1="636.2" y1="1157" x2="648.4" y2="1157" stroke="#231815" stroke-width="2.2"/>
<line x1="623.2" y1="1147.7" x2="658" y2="1147.7" stroke="#231815" stroke-width="0.8" stroke-dasharray="8,3,2,3"/>
<line x1="652" y1="1080.7" x2="851.2" y2="1080.7" stroke="#231815" stroke-width="1.3"/>
<line x1="652" y1="1105.3" x2="851.2" y2="1105.3" stroke="#231815" stroke-width="1.3"/>
<line x1="652" y1="1138.8" x2="851.2" y2="1138.8" stroke="#231815" stroke-width="1.3"/>
<line x1="652" y1="1162.4" x2="851.2" y2="1162.4" stroke="#231815" stroke-width="1.3"/>
<path d="M652,1182.6 V1180 H677 V1182.6" fill="none" stroke="#231815" stroke-width="1.2"/>
<line x1="612" y1="1122" x2="862" y2="1122" stroke="#231815" stroke-width="1" stroke-dasharray="60,3,3,3"/>
<circle cx="668.2" cy="1122" r="9.1" fill="none" stroke="#231815" stroke-width="1.4"/>
<circle cx="668.2" cy="1122" r="7.3" fill="none" stroke="#231815" stroke-width="0.7"/>
<polygon points="671.7,1122 670,1125 666.5,1125 664.7,1122 666.5,1119 670,1119" fill="none" stroke="#231815" stroke-width="1"/>
<line x1="668.2" y1="1110" x2="668.2" y2="1134" stroke="#231815" stroke-width="0.7"/>
<circle cx="713" cy="1122" r="9.1" fill="none" stroke="#231815" stroke-width="1.4"/>
<circle cx="713" cy="1122" r="7.3" fill="none" stroke="#231815" stroke-width="0.7"/>
<polygon points="716.5,1122 714.8,1125 711.2,1125 709.5,1122 711.2,1119 714.8,1119" fill="none" stroke="#231815" stroke-width="1"/>
<line x1="713" y1="1110" x2="713" y2="1134" stroke="#231815" stroke-width="0.7"/>
<circle cx="745.7" cy="1122" r="9.1" fill="none" stroke="#231815" stroke-width="1.4"/>
<circle cx="745.7" cy="1122" r="7.3" fill="none" stroke="#231815" stroke-width="0.7"/>
<polygon points="749.2,1122 747.5,1125 744,1125 742.2,1122 744,1119 747.5,1119" fill="none" stroke="#231815" stroke-width="1"/>
<line x1="745.7" y1="1110" x2="745.7" y2="1134" stroke="#231815" stroke-width="0.7"/>
<circle cx="691.8" cy="1122" r="4.8" fill="none" stroke="#231815" stroke-width="1.6"/>
<line x1="691.8" y1="1115" x2="691.8" y2="1130" stroke="#231815" stroke-width="0.7"/>
<circle cx="771.5" cy="1122" r="4.8" fill="none" stroke="#231815" stroke-width="1.6"/>
<line x1="771.5" y1="1115" x2="771.5" y2="1130" stroke="#231815" stroke-width="0.7"/>
<circle cx="831" cy="1122" r="4.8" fill="none" stroke="#231815" stroke-width="1.6"/>
<line x1="831" y1="1115" x2="831" y2="1130" stroke="#231815" stroke-width="0.7"/>
<circle cx="691.8" cy="1169.5" r="4.5" fill="none" stroke="#231815" stroke-width="1.3"/>
<line x1="684.8" y1="1169.5" x2="698.8" y2="1169.5" stroke="#231815" stroke-width="0.7"/>
<line x1="691.8" y1="1162" x2="691.8" y2="1176" stroke="#231815" stroke-width="0.7"/>
<circle cx="691.8" cy="1169.5" r="0.9" fill="#231815" stroke="#231815" stroke-width="0"/>
<circle cx="771.5" cy="1169.5" r="4.5" fill="none" stroke="#231815" stroke-width="1.3"/>
<line x1="764.5" y1="1169.5" x2="778.5" y2="1169.5" stroke="#231815" stroke-width="0.7"/>
<line x1="771.5" y1="1162" x2="771.5" y2="1176" stroke="#231815" stroke-width="0.7"/>
<circle cx="771.5" cy="1169.5" r="0.9" fill="#231815" stroke="#231815" stroke-width="0"/>
<line x1="691.8" y1="1044" x2="691.8" y2="1117" stroke="#231815" stroke-width="1.3"/>
<line x1="771.5" y1="1044" x2="771.5" y2="1117" stroke="#231815" stroke-width="1.3"/>
<line x1="831" y1="1044" x2="831" y2="1117" stroke="#231815" stroke-width="1.3"/>
<line x1="851.2" y1="1044" x2="851.2" y2="1067.6" stroke="#231815" stroke-width="1.3"/>
<line x1="669.6" y1="1048.4" x2="851.2" y2="1048.4" stroke="#231815" stroke-width="1.3"/>
<polygon points="691.8,1048.4 697.8,1045.6 697.8,1051.2" fill="#231815"/>
<polygon points="771.5,1048.4 765.5,1045.6 765.5,1051.2" fill="#231815"/>
<polygon points="771.5,1048.4 777.5,1045.6 777.5,1051.2" fill="#231815"/>
<polygon points="831,1048.4 825,1045.6 825,1051.2" fill="#231815"/>
<polygon points="831,1048.4 837,1045.6 837,1051.2" fill="#231815"/>
<polygon points="851.2,1048.4 845.2,1045.6 845.2,1051.2" fill="#231815"/>
<text x="731" y="1044.4" font-size="17" fill="#3a3a3a" text-anchor="middle">48</text>
<text x="799.7" y="1044.4" font-size="17" fill="#3a3a3a" text-anchor="middle">36</text>
<text x="841" y="1044.4" font-size="17" fill="#3a3a3a" text-anchor="middle">12</text>
<text x="694.8" y="1022.2" font-size="17" fill="#3a3a3a" textLength="170.5" lengthAdjust="spacingAndGlyphs">bottom view JXQ20-50</text>
<rect x="1043.4" y="1020.2" width="261" height="118.1" fill="#F6EDDA" stroke="#231815" stroke-width="1.6"/>
<rect x="1017.5" y="1025.1" width="22.7" height="102.5" fill="#F6EDDA" stroke="#231815" stroke-width="1.3"/>
<rect x="1040.2" y="1025.1" width="3.2" height="102.5" fill="#F6EDDA" stroke="#231815" stroke-width="1.1"/>
<line x1="1040.2" y1="1036.5" x2="1043.4" y2="1036.5" stroke="#231815" stroke-width="0.7"/>
<line x1="1040.2" y1="1047.9" x2="1043.4" y2="1047.9" stroke="#231815" stroke-width="0.7"/>
<line x1="1040.2" y1="1059.3" x2="1043.4" y2="1059.3" stroke="#231815" stroke-width="0.7"/>
<line x1="1040.2" y1="1070.7" x2="1043.4" y2="1070.7" stroke="#231815" stroke-width="0.7"/>
<line x1="1040.2" y1="1082" x2="1043.4" y2="1082" stroke="#231815" stroke-width="0.7"/>
<line x1="1040.2" y1="1093.4" x2="1043.4" y2="1093.4" stroke="#231815" stroke-width="0.7"/>
<line x1="1040.2" y1="1104.8" x2="1043.4" y2="1104.8" stroke="#231815" stroke-width="0.7"/>
<line x1="1040.2" y1="1116.2" x2="1043.4" y2="1116.2" stroke="#231815" stroke-width="0.7"/>
<rect x="1019.5" y="1033.1" width="8" height="31.8" fill="none" stroke="#231815" stroke-width="1.3"/>
<line x1="1022" y1="1033.1" x2="1022" y2="1064.9" stroke="#231815" stroke-width="0.8"/>
<line x1="1027.5" y1="1039.5" x2="1040.2" y2="1039.5" stroke="#231815" stroke-width="2.2"/>
<line x1="1027.5" y1="1058.5" x2="1040.2" y2="1058.5" stroke="#231815" stroke-width="2.2"/>
<line x1="1014.5" y1="1049" x2="1049.4" y2="1049" stroke="#231815" stroke-width="0.8" stroke-dasharray="8,3,2,3"/>
<rect x="1019.5" y="1087.4" width="8" height="31.8" fill="none" stroke="#231815" stroke-width="1.3"/>
<line x1="1022" y1="1087.4" x2="1022" y2="1119.2" stroke="#231815" stroke-width="0.8"/>
<line x1="1027.5" y1="1093.8" x2="1040.2" y2="1093.8" stroke="#231815" stroke-width="2.2"/>
<line x1="1027.5" y1="1112.8" x2="1040.2" y2="1112.8" stroke="#231815" stroke-width="2.2"/>
<line x1="1014.5" y1="1103.3" x2="1049.4" y2="1103.3" stroke="#231815" stroke-width="0.8" stroke-dasharray="8,3,2,3"/>
<line x1="1043.4" y1="1033.4" x2="1304.4" y2="1033.4" stroke="#231815" stroke-width="1.3"/>
<line x1="1043.4" y1="1059.5" x2="1304.4" y2="1059.5" stroke="#231815" stroke-width="1.3"/>
<line x1="1043.4" y1="1093.6" x2="1304.4" y2="1093.6" stroke="#231815" stroke-width="1.3"/>
<line x1="1043.4" y1="1117.8" x2="1304.4" y2="1117.8" stroke="#231815" stroke-width="1.3"/>
<path d="M1043.4,1138.3 V1135.5 H1048 V1138.3 M1069,1138.3 V1135.5 H1071 V1138.3" fill="none" stroke="#231815" stroke-width="1.2"/>
<line x1="1004.3" y1="1076.5" x2="1333" y2="1076.5" stroke="#231815" stroke-width="1.3"/>
<circle cx="1059.2" cy="1076.5" r="9.2" fill="none" stroke="#231815" stroke-width="1.4"/>
<circle cx="1059.2" cy="1076.5" r="7.4" fill="none" stroke="#231815" stroke-width="0.7"/>
<polygon points="1063.2,1076.5 1061.2,1080 1057.2,1080 1055.2,1076.5 1057.2,1073 1061.2,1073" fill="none" stroke="#231815" stroke-width="1"/>
<line x1="1059.2" y1="1064" x2="1059.2" y2="1089" stroke="#231815" stroke-width="0.7"/>
<circle cx="1107" cy="1076.5" r="9.2" fill="none" stroke="#231815" stroke-width="1.4"/>
<circle cx="1107" cy="1076.5" r="7.4" fill="none" stroke="#231815" stroke-width="0.7"/>
<polygon points="1111,1076.5 1109,1080 1105,1080 1103,1076.5 1105,1073 1109,1073" fill="none" stroke="#231815" stroke-width="1"/>
<line x1="1107" y1="1064" x2="1107" y2="1089" stroke="#231815" stroke-width="0.7"/>
<circle cx="1153.6" cy="1076.5" r="9.2" fill="none" stroke="#231815" stroke-width="1.4"/>
<circle cx="1153.6" cy="1076.5" r="7.4" fill="none" stroke="#231815" stroke-width="0.7"/>
<polygon points="1157.6,1076.5 1155.6,1080 1151.6,1080 1149.6,1076.5 1151.6,1073 1155.6,1073" fill="none" stroke="#231815" stroke-width="1"/>
<line x1="1153.6" y1="1064" x2="1153.6" y2="1089" stroke="#231815" stroke-width="0.7"/>
<circle cx="1085.2" cy="1076.5" r="5.2" fill="none" stroke="#231815" stroke-width="1.7"/>
<circle cx="1180.3" cy="1076.5" r="5.2" fill="none" stroke="#231815" stroke-width="1.7"/>
<circle cx="1275" cy="1076.5" r="5.2" fill="none" stroke="#231815" stroke-width="1.7"/>
<circle cx="1085.2" cy="1124.8" r="4.6" fill="none" stroke="#231815" stroke-width="1.3"/>
<line x1="1080" y1="1124.8" x2="1090" y2="1124.8" stroke="#231815" stroke-width="0.7"/>
<line x1="1085.2" y1="1119" x2="1085.2" y2="1131" stroke="#231815" stroke-width="0.7"/>
<path d="M1175.3,1160 V1124.8 A4.75,4.75 0 0 1 1184.8,1124.8 V1160" fill="none" stroke="#231815" stroke-width="1.2"/>
<line x1="1180" y1="1120.8" x2="1211.8" y2="1120.8" stroke="#231815" stroke-width="1.1"/>
<line x1="1184.8" y1="1128.9" x2="1211.8" y2="1128.9" stroke="#231815" stroke-width="1.1"/>
<line x1="1210.5" y1="1106" x2="1210.5" y2="1146.5" stroke="#231815" stroke-width="1.2"/>
<polygon points="1210.5,1120.8 1207.7,1114.8 1213.3,1114.8" fill="#231815"/>
<polygon points="1210.5,1128.9 1207.7,1134.9 1213.3,1134.9" fill="#231815"/>
<line x1="1090" y1="1124.8" x2="1333" y2="1124.8" stroke="#231815" stroke-width="1.3"/>
<line x1="1085.2" y1="968" x2="1085.2" y2="1185" stroke="#231815" stroke-width="1.2"/>
<line x1="1180.3" y1="988" x2="1180.3" y2="1185" stroke="#231815" stroke-width="1.2"/>
<line x1="1275.7" y1="968" x2="1275.7" y2="1165.9" stroke="#231815" stroke-width="1.2"/>
<line x1="1304.4" y1="968" x2="1304.4" y2="1185" stroke="#231815" stroke-width="1.2"/>
<line x1="1085.2" y1="1000.7" x2="1085.2" y2="1015.9" stroke="#231815" stroke-width="2.4"/>
<line x1="1085.2" y1="1151.7" x2="1085.2" y2="1165.9" stroke="#231815" stroke-width="2.4"/>
<line x1="1275.7" y1="1000.7" x2="1275.7" y2="1015.9" stroke="#231815" stroke-width="2.4"/>
<line x1="1275.7" y1="1151.7" x2="1275.7" y2="1165.9" stroke="#231815" stroke-width="2.4"/>
<line x1="1085.2" y1="974.7" x2="1304.4" y2="974.7" stroke="#231815" stroke-width="1.3"/>
<polygon points="1085.2,974.7 1094.2,971.9 1094.2,977.5" fill="#231815"/>
<polygon points="1275.7,974.7 1266.7,971.9 1266.7,977.5" fill="#231815"/>
<polygon points="1275.7,974.7 1284.7,971.9 1284.7,977.5" fill="#231815"/>
<polygon points="1304.4,974.7 1295.4,971.9 1295.4,977.5" fill="#231815"/>
<line x1="1180.3" y1="994" x2="1275.7" y2="994" stroke="#231815" stroke-width="1.3"/>
<polygon points="1180.3,994 1189.3,991.2 1189.3,996.8" fill="#231815"/>
<polygon points="1275.7,994 1266.7,991.2 1266.7,996.8" fill="#231815"/>
<line x1="1087" y1="1007.4" x2="1108" y2="1007.4" stroke="#231815" stroke-width="1.3"/>
<polygon points="1087,1007.4 1094,1004.6 1094,1010.2" fill="#231815"/>
<line x1="1277" y1="1007.4" x2="1297" y2="1007.4" stroke="#231815" stroke-width="1.3"/>
<polygon points="1277,1007.4 1284,1004.6 1284,1010.2" fill="#231815"/>
<line x1="1087" y1="1157.5" x2="1108" y2="1157.5" stroke="#231815" stroke-width="1.3"/>
<polygon points="1087,1157.5 1094,1154.7 1094,1160.3" fill="#231815"/>
<line x1="1277" y1="1157.5" x2="1297" y2="1157.5" stroke="#231815" stroke-width="1.3"/>
<polygon points="1277,1157.5 1284,1154.7 1284,1160.3" fill="#231815"/>
<line x1="1085.2" y1="1180" x2="1304.4" y2="1180" stroke="#231815" stroke-width="1.3"/>
<polygon points="1085.2,1180 1094.2,1177.2 1094.2,1182.8" fill="#231815"/>
<polygon points="1180.3,1180 1171.3,1177.2 1171.3,1182.8" fill="#231815"/>
<polygon points="1180.3,1180 1189.3,1177.2 1189.3,1182.8" fill="#231815"/>
<polygon points="1304.4,1180 1295.4,1177.2 1295.4,1182.8" fill="#231815"/>
<line x1="1162" y1="1157.5" x2="1206" y2="1157.5" stroke="#231815" stroke-width="1.3"/>
<polygon points="1174.5,1157.5 1168.5,1154.7 1168.5,1160.3" fill="#231815"/>
<polygon points="1186.4,1157.5 1192.4,1154.7 1192.4,1160.3" fill="#231815"/>
<line x1="1330.7" y1="1076.5" x2="1330.7" y2="1124.8" stroke="#231815" stroke-width="1.3"/>
<polygon points="1330.7,1076.5 1327.9,1085.5 1333.5,1085.5" fill="#231815"/>
<polygon points="1330.7,1124.8 1327.9,1115.8 1333.5,1115.8" fill="#231815"/>
<line x1="994.3" y1="1136.2" x2="1045.6" y2="1136.2" stroke="#231815" stroke-width="1.2"/>
<line x1="994.3" y1="1138.6" x2="1045.6" y2="1138.6" stroke="#231815" stroke-width="1.2"/>
<line x1="997.8" y1="1101.9" x2="997.8" y2="1150.5" stroke="#231815" stroke-width="1.3"/>
<polygon points="997.8,1136.2 995,1129.2 1000.6,1129.2" fill="#231815"/>
<polygon points="997.8,1138.6 995,1145.6 1000.6,1145.6" fill="#231815"/>
<text x="1176.2" y="967" font-size="17" fill="#3a3a3a" text-anchor="middle">(NN-1)xH</text>
<text x="1289.2" y="970" font-size="17" fill="#3a3a3a" text-anchor="middle">G</text>
<text x="1225" y="990.6" font-size="17" fill="#3a3a3a" text-anchor="middle">H</text>
<text x="1101" y="1004" font-size="17" fill="#3a3a3a" text-anchor="middle">A</text>
<text x="1290.9" y="1004" font-size="17" fill="#3a3a3a" text-anchor="middle">B</text>
<text x="1101" y="1154.8" font-size="17" fill="#3a3a3a" text-anchor="middle">A</text>
<text x="1290.9" y="1154.8" font-size="17" fill="#3a3a3a" text-anchor="middle">B</text>
<text x="1131.7" y="1176" font-size="17" fill="#3a3a3a" text-anchor="middle">HA</text>
<text x="1225" y="1176" font-size="17" fill="#3a3a3a" text-anchor="middle">GA</text>
<text x="1199" y="1154.8" font-size="17" fill="#3a3a3a" text-anchor="middle">6</text>
<text x="1326.6" y="1110" font-size="17" fill="#3a3a3a" textLength="16.2" lengthAdjust="spacingAndGlyphs" transform="rotate(-90 1326.6 1110)">29</text>
<text x="993" y="1126.2" font-size="17" fill="#3a3a3a" textLength="21.6" lengthAdjust="spacingAndGlyphs" transform="rotate(-90 993 1126.2)">1.5</text>
<line x1="969.9" y1="1189.3" x2="1048.6" y2="1189.3" stroke="#231815" stroke-width="1.3"/>
<line x1="1048.6" y1="1189.3" x2="1081.8" y2="1128.8" stroke="#231815" stroke-width="1.2"/>
<polygon points="1082.5,1127.5 1081.1,1135.9 1076.2,1133.2" fill="#231815"/>
<circle cx="938.4" cy="1176.1" r="5.1" fill="none" stroke="#3a3a3a" stroke-width="1.5"/>
<line x1="933.7" y1="1181.4" x2="943.3" y2="1170.7" stroke="#3a3a3a" stroke-width="1.5"/>
<text x="947.7" y="1181.7" font-size="17" fill="#3a3a3a" textLength="8.1" lengthAdjust="spacingAndGlyphs">5</text>
<text x="963.8" y="1172.1" font-size="10" fill="#3a3a3a" textLength="32.3" lengthAdjust="spacingAndGlyphs">+0.030</text>
<text x="969.9" y="1184.3" font-size="10" fill="#3a3a3a" textLength="5.5" lengthAdjust="spacingAndGlyphs">0</text>
<text x="996.1" y="1181.7" font-size="17" fill="#3a3a3a" textLength="57" lengthAdjust="spacingAndGlyphs">depth 5</text>
<line x1="1213.3" y1="1124.8" x2="1266.7" y2="1154" stroke="#231815" stroke-width="1.2"/>
<polygon points="1213.3,1124.8 1221.7,1126.2 1219,1131.1" fill="#231815"/>
<line x1="1266.7" y1="1154" x2="1266.7" y2="1244.7" stroke="#231815" stroke-width="1.2"/>
<text x="1260.8" y="1284.6" font-size="17" fill="#3a3a3a" textLength="10.8" lengthAdjust="spacingAndGlyphs" transform="rotate(-90 1260.8 1284.6)">5</text>
<text x="1254" y="1273.2" font-size="10" fill="#3a3a3a" textLength="29.7" lengthAdjust="spacingAndGlyphs" transform="rotate(-90 1254 1273.2)">+0.030</text>
<text x="1263" y="1269.2" font-size="10" fill="#3a3a3a" textLength="4.6" lengthAdjust="spacingAndGlyphs" transform="rotate(-90 1263 1269.2)">0</text>
<text x="1258.5" y="1240.1" font-size="17" fill="#3a3a3a" textLength="55.9" lengthAdjust="spacingAndGlyphs" transform="rotate(-90 1258.5 1240.1)">depth 5</text></svg>
</body></html>
